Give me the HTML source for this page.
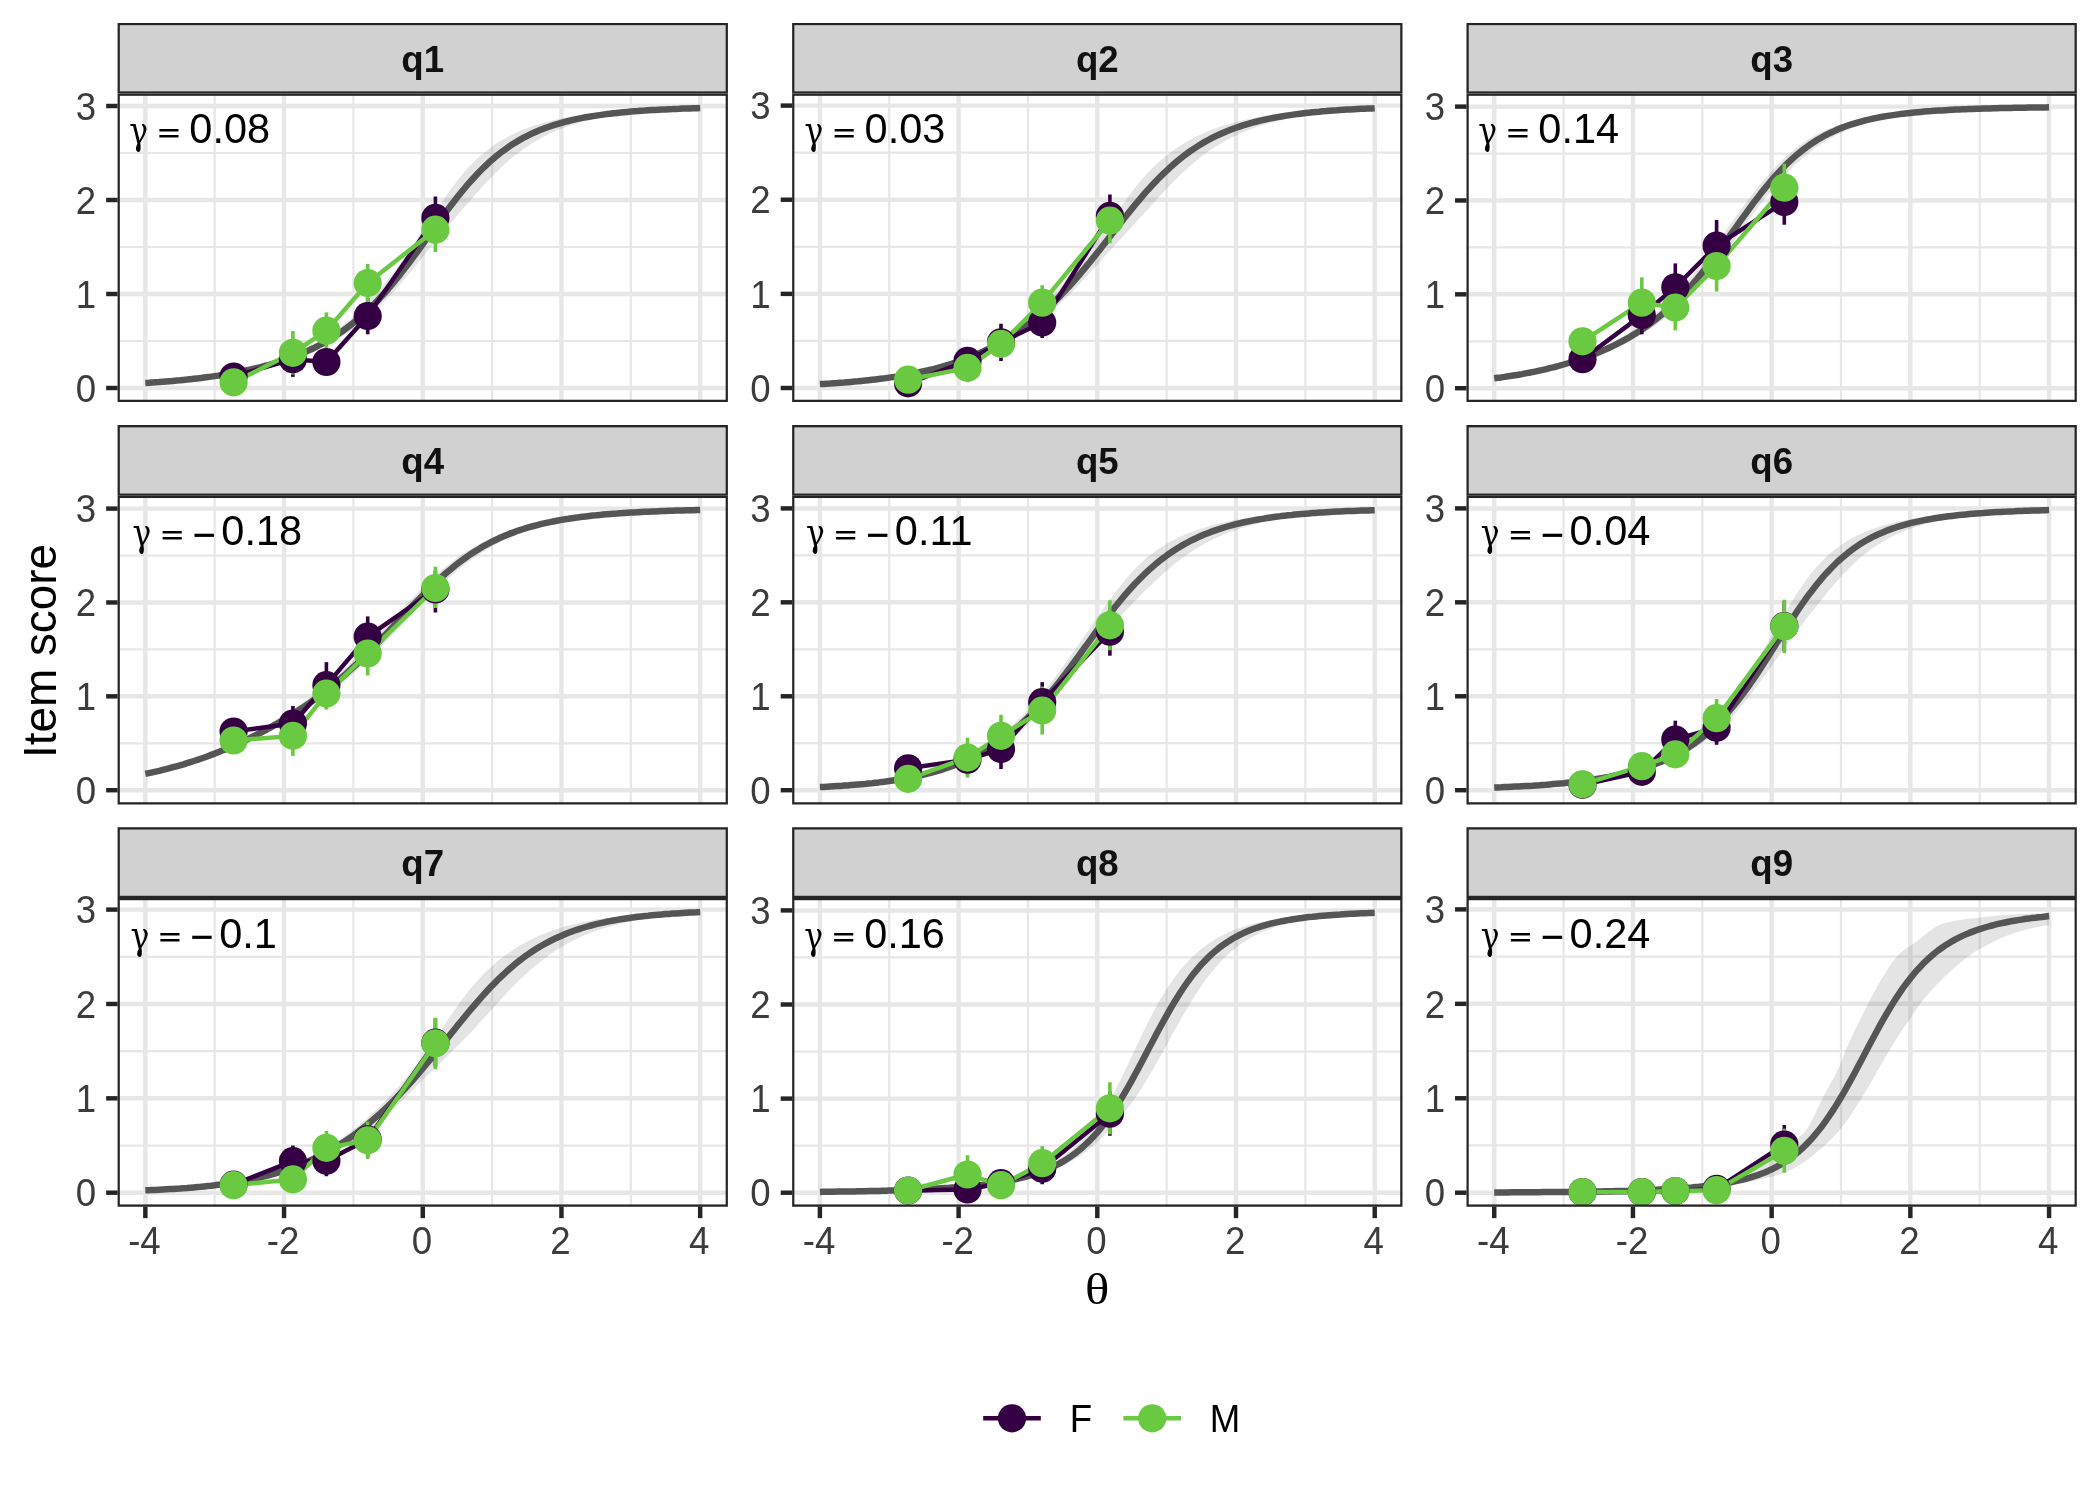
<!DOCTYPE html>
<html lang="en"><head><meta charset="utf-8"><title>Item score by theta</title>
<style>html,body{margin:0;padding:0;background:#fff;}body{width:2100px;height:1500px;overflow:hidden;}svg{display:block;will-change:transform;}</style>
</head><body>
<svg width="2100" height="1500" viewBox="0 0 2100 1500">
<rect width="2100" height="1500" fill="#fff"/>
<defs>
<clipPath id="cp1"><rect x="117.60" y="93.60" width="610.30" height="308.37"/></clipPath>
<clipPath id="cs1"><rect x="117.60" y="22.92" width="610.30" height="70.68"/></clipPath>
<clipPath id="cp2"><rect x="792.15" y="93.60" width="610.30" height="308.37"/></clipPath>
<clipPath id="cs2"><rect x="792.15" y="22.92" width="610.30" height="70.68"/></clipPath>
<clipPath id="cp3"><rect x="1466.50" y="93.60" width="610.30" height="308.37"/></clipPath>
<clipPath id="cs3"><rect x="1466.50" y="22.92" width="610.30" height="70.68"/></clipPath>
<clipPath id="cp4"><rect x="117.60" y="495.80" width="610.30" height="308.65"/></clipPath>
<clipPath id="cs4"><rect x="117.60" y="425.12" width="610.30" height="70.68"/></clipPath>
<clipPath id="cp5"><rect x="792.15" y="495.80" width="610.30" height="308.65"/></clipPath>
<clipPath id="cs5"><rect x="792.15" y="425.12" width="610.30" height="70.68"/></clipPath>
<clipPath id="cp6"><rect x="1466.50" y="495.80" width="610.30" height="308.65"/></clipPath>
<clipPath id="cs6"><rect x="1466.50" y="425.12" width="610.30" height="70.68"/></clipPath>
<clipPath id="cp7"><rect x="117.60" y="898.00" width="610.30" height="308.67"/></clipPath>
<clipPath id="cs7"><rect x="117.60" y="827.32" width="610.30" height="70.68"/></clipPath>
<clipPath id="cp8"><rect x="792.15" y="898.00" width="610.30" height="308.67"/></clipPath>
<clipPath id="cs8"><rect x="792.15" y="827.32" width="610.30" height="70.68"/></clipPath>
<clipPath id="cp9"><rect x="1466.50" y="898.00" width="610.30" height="308.67"/></clipPath>
<clipPath id="cs9"><rect x="1466.50" y="827.32" width="610.30" height="70.68"/></clipPath>
</defs>
<g id="panel1">
<g clip-path="url(#cp1)">
<line x1="214.69" x2="214.69" y1="93.60" y2="401.97" stroke="#e7e7e7" stroke-width="2.23"/>
<line x1="353.40" x2="353.40" y1="93.60" y2="401.97" stroke="#e7e7e7" stroke-width="2.23"/>
<line x1="492.10" x2="492.10" y1="93.60" y2="401.97" stroke="#e7e7e7" stroke-width="2.23"/>
<line x1="630.81" x2="630.81" y1="93.60" y2="401.97" stroke="#e7e7e7" stroke-width="2.23"/>
<line x1="117.60" x2="727.90" y1="341.00" y2="341.00" stroke="#e7e7e7" stroke-width="2.23"/>
<line x1="117.60" x2="727.90" y1="247.00" y2="247.00" stroke="#e7e7e7" stroke-width="2.23"/>
<line x1="117.60" x2="727.90" y1="153.00" y2="153.00" stroke="#e7e7e7" stroke-width="2.23"/>
<line x1="145.34" x2="145.34" y1="93.60" y2="401.97" stroke="#e7e7e7" stroke-width="4.45"/>
<line x1="284.05" x2="284.05" y1="93.60" y2="401.97" stroke="#e7e7e7" stroke-width="4.45"/>
<line x1="422.75" x2="422.75" y1="93.60" y2="401.97" stroke="#e7e7e7" stroke-width="4.45"/>
<line x1="561.45" x2="561.45" y1="93.60" y2="401.97" stroke="#e7e7e7" stroke-width="4.45"/>
<line x1="700.16" x2="700.16" y1="93.60" y2="401.97" stroke="#e7e7e7" stroke-width="4.45"/>
<line x1="117.60" x2="727.90" y1="388.00" y2="388.00" stroke="#e7e7e7" stroke-width="4.45"/>
<line x1="117.60" x2="727.90" y1="294.00" y2="294.00" stroke="#e7e7e7" stroke-width="4.45"/>
<line x1="117.60" x2="727.90" y1="200.00" y2="200.00" stroke="#e7e7e7" stroke-width="4.45"/>
<line x1="117.60" x2="727.90" y1="106.00" y2="106.00" stroke="#e7e7e7" stroke-width="4.45"/>
<polygon points="145.3,382.5 148.8,382.3 152.3,382.0 155.7,381.7 159.2,381.5 162.7,381.2 166.1,380.9 169.6,380.5 173.1,380.2 176.5,379.9 180.0,379.5 183.5,379.1 187.0,378.7 190.4,378.3 193.9,377.9 197.4,377.5 200.8,377.0 204.3,376.5 207.8,376.0 211.2,375.5 214.7,374.9 218.2,374.4 221.6,373.8 225.1,373.1 228.6,372.5 232.0,371.8 235.5,371.1 239.0,370.4 242.4,369.6 245.9,368.8 249.4,368.0 252.8,367.1 256.3,366.2 259.8,365.3 263.2,364.3 266.7,363.3 270.2,362.2 273.6,361.1 277.1,359.9 280.6,358.7 284.0,357.5 287.5,356.2 291.0,354.8 294.4,353.3 297.9,351.8 301.4,350.3 304.9,348.6 308.3,346.9 311.8,345.1 315.3,343.3 318.7,341.3 322.2,339.3 325.7,337.2 329.1,335.0 332.6,332.6 336.1,330.2 339.5,327.7 343.0,325.1 346.5,322.3 349.9,319.4 353.4,316.5 356.9,313.4 360.3,310.1 363.8,306.8 367.3,303.3 370.7,299.6 374.2,295.9 377.7,292.0 381.1,288.0 384.6,283.8 388.1,279.6 391.5,275.2 395.0,270.7 398.5,266.0 401.9,261.3 405.4,256.5 408.9,251.5 412.3,246.5 415.8,241.4 419.3,236.2 422.8,231.0 426.2,225.8 429.7,220.5 433.2,215.2 436.6,210.0 440.1,204.8 443.6,199.7 447.0,194.6 450.5,189.8 454.0,185.0 457.4,180.5 460.9,176.2 464.4,172.0 467.8,168.1 471.3,164.4 474.8,161.0 478.2,157.7 481.7,154.6 485.2,151.7 488.6,149.0 492.1,146.5 495.6,144.1 499.0,141.8 502.5,139.7 506.0,137.8 509.4,135.9 512.9,134.2 516.4,132.6 519.8,131.0 523.3,129.6 526.8,128.2 530.2,127.0 533.7,125.8 537.2,124.7 540.6,123.6 544.1,122.6 547.6,121.7 551.1,120.8 554.5,120.0 558.0,119.2 561.5,118.5 564.9,117.8 568.4,117.2 571.9,116.6 575.3,116.0 578.8,115.5 582.3,115.0 585.7,114.5 589.2,114.0 592.7,113.6 596.1,113.2 599.6,112.9 603.1,112.5 606.5,112.2 610.0,111.8 613.5,111.6 616.9,111.3 620.4,111.0 623.9,110.8 627.3,110.5 630.8,110.3 634.3,110.1 637.7,109.9 641.2,109.7 644.7,109.5 648.1,109.3 651.6,109.2 655.1,109.0 658.5,108.9 662.0,108.7 665.5,108.6 669.0,108.5 672.4,108.4 675.9,108.3 679.4,108.1 682.8,108.0 686.3,107.9 689.8,107.9 693.2,107.8 696.7,107.7 700.2,107.6 700.2,108.7 696.7,108.8 693.2,108.9 689.8,109.1 686.3,109.2 682.8,109.4 679.4,109.6 675.9,109.8 672.4,110.0 669.0,110.2 665.5,110.4 662.0,110.6 658.5,110.9 655.1,111.1 651.6,111.4 648.1,111.7 644.7,112.0 641.2,112.3 637.7,112.6 634.3,113.0 630.8,113.4 627.3,113.8 623.9,114.2 620.4,114.7 616.9,115.2 613.5,115.7 610.0,116.2 606.5,116.8 603.1,117.4 599.6,118.1 596.1,118.8 592.7,119.5 589.2,120.3 585.7,121.1 582.3,122.0 578.8,123.0 575.3,124.0 571.9,125.1 568.4,126.2 564.9,127.4 561.5,128.7 558.0,130.1 554.5,131.5 551.1,133.1 547.6,134.7 544.1,136.4 540.6,138.3 537.2,140.2 533.7,142.3 530.2,144.4 526.8,146.7 523.3,149.1 519.8,151.7 516.4,154.3 512.9,157.1 509.4,160.1 506.0,163.1 502.5,166.3 499.0,169.6 495.6,173.0 492.1,176.5 488.6,180.1 485.2,183.8 481.7,187.6 478.2,191.4 474.8,195.3 471.3,199.3 467.8,203.2 464.4,207.2 460.9,211.2 457.4,215.2 454.0,219.3 450.5,223.3 447.0,227.4 443.6,231.5 440.1,235.7 436.6,239.9 433.2,244.1 429.7,248.4 426.2,252.7 422.8,257.0 419.3,261.3 415.8,265.6 412.3,269.8 408.9,274.1 405.4,278.2 401.9,282.3 398.5,286.3 395.0,290.3 391.5,294.1 388.1,297.8 384.6,301.4 381.1,304.9 377.7,308.3 374.2,311.6 370.7,314.7 367.3,317.8 363.8,320.7 360.3,323.5 356.9,326.2 353.4,328.8 349.9,331.2 346.5,333.6 343.0,335.9 339.5,338.0 336.1,340.1 332.6,342.1 329.1,344.0 325.7,345.9 322.2,347.6 318.7,349.3 315.3,350.9 311.8,352.4 308.3,353.9 304.9,355.3 301.4,356.7 297.9,358.0 294.4,359.2 291.0,360.4 287.5,361.6 284.0,362.7 280.6,363.7 277.1,364.7 273.6,365.7 270.2,366.6 266.7,367.5 263.2,368.3 259.8,369.2 256.3,369.9 252.8,370.7 249.4,371.4 245.9,372.1 242.4,372.8 239.0,373.4 235.5,374.0 232.0,374.6 228.6,375.2 225.1,375.7 221.6,376.2 218.2,376.7 214.7,377.2 211.2,377.6 207.8,378.1 204.3,378.5 200.8,378.9 197.4,379.3 193.9,379.7 190.4,380.0 187.0,380.3 183.5,380.7 180.0,381.0 176.5,381.3 173.1,381.6 169.6,381.8 166.1,382.1 162.7,382.4 159.2,382.6 155.7,382.8 152.3,383.0 148.8,383.3 145.3,383.5" fill="#555555" fill-opacity="0.16"/>
<polyline points="145.3,383.0 148.8,382.8 152.3,382.5 155.7,382.3 159.2,382.1 162.7,381.8 166.1,381.5 169.6,381.2 173.1,380.9 176.5,380.6 180.0,380.3 183.5,379.9 187.0,379.6 190.4,379.2 193.9,378.8 197.4,378.4 200.8,378.0 204.3,377.5 207.8,377.1 211.2,376.6 214.7,376.1 218.2,375.6 221.6,375.0 225.1,374.5 228.6,373.9 232.0,373.3 235.5,372.6 239.0,372.0 242.4,371.3 245.9,370.5 249.4,369.8 252.8,369.0 256.3,368.2 259.8,367.3 263.2,366.4 266.7,365.5 270.2,364.5 273.6,363.5 277.1,362.4 280.6,361.3 284.0,360.2 287.5,359.0 291.0,357.7 294.4,356.4 297.9,355.1 301.4,353.6 304.9,352.1 308.3,350.6 311.8,349.0 315.3,347.3 318.7,345.5 322.2,343.7 325.7,341.7 329.1,339.7 332.6,337.6 336.1,335.4 339.5,333.1 343.0,330.7 346.5,328.2 349.9,325.6 353.4,322.9 356.9,320.1 360.3,317.1 363.8,314.0 367.3,310.8 370.7,307.5 374.2,304.1 377.7,300.5 381.1,296.8 384.6,293.0 388.1,289.0 391.5,284.9 395.0,280.8 398.5,276.5 401.9,272.1 405.4,267.6 408.9,263.0 412.3,258.4 415.8,253.7 419.3,248.9 422.8,244.1 426.2,239.3 429.7,234.4 433.2,229.6 436.6,224.8 440.1,220.0 443.6,215.3 447.0,210.6 450.5,206.0 454.0,201.5 457.4,197.0 460.9,192.7 464.4,188.5 467.8,184.4 471.3,180.5 474.8,176.7 478.2,173.0 481.7,169.5 485.2,166.1 488.6,162.8 492.1,159.8 495.6,156.8 499.0,154.0 502.5,151.3 506.0,148.8 509.4,146.3 512.9,144.1 516.4,141.9 519.8,139.9 523.3,137.9 526.8,136.1 530.2,134.4 533.7,132.8 537.2,131.2 540.6,129.8 544.1,128.4 547.6,127.2 551.1,126.0 554.5,124.9 558.0,123.8 561.5,122.8 564.9,121.9 568.4,121.0 571.9,120.2 575.3,119.4 578.8,118.6 582.3,117.9 585.7,117.3 589.2,116.7 592.7,116.1 596.1,115.6 599.6,115.1 603.1,114.6 606.5,114.1 610.0,113.7 613.5,113.3 616.9,112.9 620.4,112.6 623.9,112.2 627.3,111.9 630.8,111.6 634.3,111.3 637.7,111.1 641.2,110.8 644.7,110.6 648.1,110.3 651.6,110.1 655.1,109.9 658.5,109.7 662.0,109.5 665.5,109.4 669.0,109.2 672.4,109.1 675.9,108.9 679.4,108.8 682.8,108.6 686.3,108.5 689.8,108.4 693.2,108.3 696.7,108.2 700.2,108.1" fill="none" stroke="#555555" stroke-width="6.5" stroke-linejoin="round"/>
<polyline points="233.6,376.5 292.9,359.2 326.4,362.0 367.7,316.1 435.4,217.9" fill="none" stroke="#340043" stroke-width="4.45" stroke-linejoin="round"/>
<polyline points="233.6,382.3 292.9,352.8 326.4,330.7 367.7,283.1 435.4,229.7" fill="none" stroke="#69c940" stroke-width="4.45" stroke-linejoin="round"/>
<line x1="233.6" x2="233.6" y1="364.5" y2="388.5" stroke="#340043" stroke-width="3.6"/>
<line x1="292.9" x2="292.9" y1="341.5" y2="376.9" stroke="#340043" stroke-width="3.6"/>
<line x1="326.4" x2="326.4" y1="350.0" y2="374.0" stroke="#340043" stroke-width="3.6"/>
<line x1="367.7" x2="367.7" y1="297.9" y2="334.3" stroke="#340043" stroke-width="3.6"/>
<line x1="435.4" x2="435.4" y1="196.6" y2="239.2" stroke="#340043" stroke-width="3.6"/>
<line x1="233.6" x2="233.6" y1="370.3" y2="394.3" stroke="#69c940" stroke-width="3.6"/>
<line x1="292.9" x2="292.9" y1="331.0" y2="374.6" stroke="#69c940" stroke-width="3.6"/>
<line x1="326.4" x2="326.4" y1="312.4" y2="349.0" stroke="#69c940" stroke-width="3.6"/>
<line x1="367.7" x2="367.7" y1="263.9" y2="302.3" stroke="#69c940" stroke-width="3.6"/>
<line x1="435.4" x2="435.4" y1="207.3" y2="252.1" stroke="#69c940" stroke-width="3.6"/>
<circle cx="233.6" cy="376.5" r="14.1" fill="#340043"/>
<circle cx="292.9" cy="359.2" r="14.1" fill="#340043"/>
<circle cx="326.4" cy="362.0" r="14.1" fill="#340043"/>
<circle cx="367.7" cy="316.1" r="14.1" fill="#340043"/>
<circle cx="435.4" cy="217.9" r="14.1" fill="#340043"/>
<circle cx="233.6" cy="382.3" r="14.1" fill="#69c940"/>
<circle cx="292.9" cy="352.8" r="14.1" fill="#69c940"/>
<circle cx="326.4" cy="330.7" r="14.1" fill="#69c940"/>
<circle cx="367.7" cy="283.1" r="14.1" fill="#69c940"/>
<circle cx="435.4" cy="229.7" r="14.1" fill="#69c940"/>
<text transform="translate(129.37,144.10) scale(0.8000,1.0000)" font-family="DejaVu Serif, Liberation Serif, serif" font-size="39.3" fill="#000">γ</text>
<text transform="translate(157.69,141.00) scale(0.9230,0.5500)" font-family="Liberation Sans, Arial, Helvetica, sans-serif" font-size="41.5" font-weight="bold" fill="#000">=</text>
<text transform="translate(189.30,143.20) scale(1.0000,1.0407)" font-family="Liberation Sans, Arial, Helvetica, sans-serif" font-size="41.5" fill="#000">0.08</text>
<rect x="117.60" y="93.60" width="610.30" height="308.37" fill="none" stroke="#252525" stroke-width="4.45"/>
</g>
<g clip-path="url(#cs1)"><rect x="117.60" y="22.92" width="610.30" height="70.68" fill="#d1d1d1" stroke="#252525" stroke-width="4.45"/></g>
<text transform="translate(422.75,71.82) scale(1.0000,1.0200)" font-family="Liberation Sans, Arial, Helvetica, sans-serif" font-size="36.67" font-weight="bold" text-anchor="middle" fill="#111111">q1</text>
<line x1="106.14" x2="117.60" y1="388.00" y2="388.00" stroke="#252525" stroke-width="4.45"/>
<text transform="translate(96.15,401.70) scale(1.0000,1.0407)" font-family="Liberation Sans, Arial, Helvetica, sans-serif" font-size="36.67" text-anchor="end" fill="#3c3c3c">0</text>
<line x1="106.14" x2="117.60" y1="294.00" y2="294.00" stroke="#252525" stroke-width="4.45"/>
<text transform="translate(96.15,307.70) scale(1.0000,1.0407)" font-family="Liberation Sans, Arial, Helvetica, sans-serif" font-size="36.67" text-anchor="end" fill="#3c3c3c">1</text>
<line x1="106.14" x2="117.60" y1="200.00" y2="200.00" stroke="#252525" stroke-width="4.45"/>
<text transform="translate(96.15,213.70) scale(1.0000,1.0407)" font-family="Liberation Sans, Arial, Helvetica, sans-serif" font-size="36.67" text-anchor="end" fill="#3c3c3c">2</text>
<line x1="106.14" x2="117.60" y1="106.00" y2="106.00" stroke="#252525" stroke-width="4.45"/>
<text transform="translate(96.15,119.70) scale(1.0000,1.0407)" font-family="Liberation Sans, Arial, Helvetica, sans-serif" font-size="36.67" text-anchor="end" fill="#3c3c3c">3</text>
</g>
<g id="panel2">
<g clip-path="url(#cp2)">
<line x1="889.24" x2="889.24" y1="93.60" y2="401.97" stroke="#e7e7e7" stroke-width="2.23"/>
<line x1="1027.95" x2="1027.95" y1="93.60" y2="401.97" stroke="#e7e7e7" stroke-width="2.23"/>
<line x1="1166.65" x2="1166.65" y1="93.60" y2="401.97" stroke="#e7e7e7" stroke-width="2.23"/>
<line x1="1305.36" x2="1305.36" y1="93.60" y2="401.97" stroke="#e7e7e7" stroke-width="2.23"/>
<line x1="792.15" x2="1402.45" y1="340.93" y2="340.93" stroke="#e7e7e7" stroke-width="2.23"/>
<line x1="792.15" x2="1402.45" y1="246.80" y2="246.80" stroke="#e7e7e7" stroke-width="2.23"/>
<line x1="792.15" x2="1402.45" y1="152.67" y2="152.67" stroke="#e7e7e7" stroke-width="2.23"/>
<line x1="819.89" x2="819.89" y1="93.60" y2="401.97" stroke="#e7e7e7" stroke-width="4.45"/>
<line x1="958.60" x2="958.60" y1="93.60" y2="401.97" stroke="#e7e7e7" stroke-width="4.45"/>
<line x1="1097.30" x2="1097.30" y1="93.60" y2="401.97" stroke="#e7e7e7" stroke-width="4.45"/>
<line x1="1236.00" x2="1236.00" y1="93.60" y2="401.97" stroke="#e7e7e7" stroke-width="4.45"/>
<line x1="1374.71" x2="1374.71" y1="93.60" y2="401.97" stroke="#e7e7e7" stroke-width="4.45"/>
<line x1="792.15" x2="1402.45" y1="388.00" y2="388.00" stroke="#e7e7e7" stroke-width="4.45"/>
<line x1="792.15" x2="1402.45" y1="293.87" y2="293.87" stroke="#e7e7e7" stroke-width="4.45"/>
<line x1="792.15" x2="1402.45" y1="199.73" y2="199.73" stroke="#e7e7e7" stroke-width="4.45"/>
<line x1="792.15" x2="1402.45" y1="105.60" y2="105.60" stroke="#e7e7e7" stroke-width="4.45"/>
<polygon points="819.9,383.6 823.4,383.4 826.8,383.2 830.3,382.9 833.8,382.7 837.2,382.4 840.7,382.1 844.2,381.8 847.6,381.5 851.1,381.2 854.6,380.9 858.0,380.5 861.5,380.1 865.0,379.8 868.4,379.3 871.9,378.9 875.4,378.5 878.8,378.0 882.3,377.5 885.8,377.0 889.2,376.4 892.7,375.9 896.2,375.3 899.6,374.7 903.1,374.0 906.6,373.3 910.0,372.6 913.5,371.9 917.0,371.1 920.5,370.3 923.9,369.5 927.4,368.6 930.9,367.7 934.3,366.7 937.8,365.7 941.3,364.6 944.7,363.6 948.2,362.4 951.7,361.2 955.1,360.0 958.6,358.7 962.1,357.3 965.5,355.9 969.0,354.5 972.5,352.9 975.9,351.4 979.4,349.7 982.9,348.0 986.3,346.2 989.8,344.3 993.3,342.4 996.7,340.4 1000.2,338.3 1003.7,336.2 1007.1,333.9 1010.6,331.6 1014.1,329.1 1017.5,326.6 1021.0,324.0 1024.5,321.3 1027.9,318.5 1031.4,315.6 1034.9,312.6 1038.4,309.5 1041.8,306.3 1045.3,303.0 1048.8,299.5 1052.2,296.0 1055.7,292.4 1059.2,288.6 1062.6,284.8 1066.1,280.8 1069.6,276.7 1073.0,272.6 1076.5,268.3 1080.0,263.9 1083.4,259.5 1086.9,254.9 1090.4,250.2 1093.8,245.5 1097.3,240.7 1100.8,235.8 1104.2,230.8 1107.7,225.8 1111.2,220.8 1114.6,215.8 1118.1,210.8 1121.6,205.9 1125.0,201.1 1128.5,196.3 1132.0,191.7 1135.4,187.3 1138.9,183.0 1142.4,178.9 1145.8,175.0 1149.3,171.3 1152.8,167.8 1156.2,164.4 1159.7,161.3 1163.2,158.3 1166.7,155.4 1170.1,152.7 1173.6,150.2 1177.1,147.8 1180.5,145.5 1184.0,143.4 1187.5,141.3 1190.9,139.4 1194.4,137.6 1197.9,135.8 1201.3,134.2 1204.8,132.7 1208.3,131.2 1211.7,129.8 1215.2,128.5 1218.7,127.3 1222.1,126.1 1225.6,125.0 1229.1,124.0 1232.5,123.0 1236.0,122.1 1239.5,121.2 1242.9,120.4 1246.4,119.6 1249.9,118.8 1253.3,118.1 1256.8,117.5 1260.3,116.9 1263.7,116.3 1267.2,115.7 1270.7,115.2 1274.1,114.7 1277.6,114.2 1281.1,113.8 1284.6,113.3 1288.0,112.9 1291.5,112.5 1295.0,112.2 1298.4,111.9 1301.9,111.5 1305.4,111.2 1308.8,110.9 1312.3,110.7 1315.8,110.4 1319.2,110.2 1322.7,109.9 1326.2,109.7 1329.6,109.5 1333.1,109.3 1336.6,109.1 1340.0,108.9 1343.5,108.8 1347.0,108.6 1350.4,108.5 1353.9,108.3 1357.4,108.2 1360.8,108.0 1364.3,107.9 1367.8,107.8 1371.2,107.7 1374.7,107.6 1374.7,109.1 1371.2,109.3 1367.8,109.5 1364.3,109.7 1360.8,109.9 1357.4,110.1 1353.9,110.4 1350.4,110.6 1347.0,110.9 1343.5,111.2 1340.0,111.5 1336.6,111.8 1333.1,112.1 1329.6,112.5 1326.2,112.9 1322.7,113.2 1319.2,113.7 1315.8,114.1 1312.3,114.6 1308.8,115.1 1305.4,115.6 1301.9,116.1 1298.4,116.7 1295.0,117.4 1291.5,118.0 1288.0,118.7 1284.6,119.4 1281.1,120.2 1277.6,121.0 1274.1,121.9 1270.7,122.8 1267.2,123.8 1263.7,124.8 1260.3,125.9 1256.8,127.0 1253.3,128.3 1249.9,129.5 1246.4,130.9 1242.9,132.3 1239.5,133.8 1236.0,135.4 1232.5,137.1 1229.1,138.9 1225.6,140.8 1222.1,142.7 1218.7,144.8 1215.2,147.0 1211.7,149.2 1208.3,151.6 1204.8,154.1 1201.3,156.8 1197.9,159.5 1194.4,162.3 1190.9,165.3 1187.5,168.4 1184.0,171.5 1180.5,174.8 1177.1,178.2 1173.6,181.7 1170.1,185.2 1166.7,188.8 1163.2,192.5 1159.7,196.3 1156.2,200.0 1152.8,203.8 1149.3,207.7 1145.8,211.5 1142.4,215.3 1138.9,219.1 1135.4,222.9 1132.0,226.6 1128.5,230.4 1125.0,234.1 1121.6,237.9 1118.1,241.6 1114.6,245.4 1111.2,249.2 1107.7,253.0 1104.2,256.9 1100.8,260.7 1097.3,264.6 1093.8,268.5 1090.4,272.3 1086.9,276.1 1083.4,279.9 1080.0,283.6 1076.5,287.3 1073.0,290.9 1069.6,294.5 1066.1,297.9 1062.6,301.3 1059.2,304.6 1055.7,307.8 1052.2,310.9 1048.8,314.0 1045.3,316.9 1041.8,319.7 1038.4,322.5 1034.9,325.1 1031.4,327.7 1027.9,330.2 1024.5,332.5 1021.0,334.8 1017.5,337.0 1014.1,339.2 1010.6,341.2 1007.1,343.2 1003.7,345.1 1000.2,346.9 996.7,348.7 993.3,350.4 989.8,352.0 986.3,353.6 982.9,355.1 979.4,356.5 975.9,357.9 972.5,359.2 969.0,360.5 965.5,361.7 962.1,362.9 958.6,364.0 955.1,365.1 951.7,366.1 948.2,367.1 944.7,368.0 941.3,368.9 937.8,369.8 934.3,370.6 930.9,371.4 927.4,372.2 923.9,372.9 920.5,373.6 917.0,374.3 913.5,374.9 910.0,375.5 906.6,376.1 903.1,376.7 899.6,377.2 896.2,377.7 892.7,378.2 889.2,378.6 885.8,379.1 882.3,379.5 878.8,379.9 875.4,380.3 871.9,380.7 868.4,381.0 865.0,381.3 861.5,381.7 858.0,382.0 854.6,382.2 851.1,382.5 847.6,382.8 844.2,383.0 840.7,383.3 837.2,383.5 833.8,383.7 830.3,383.9 826.8,384.1 823.4,384.3 819.9,384.5" fill="#555555" fill-opacity="0.16"/>
<polyline points="819.9,384.1 823.4,383.9 826.8,383.7 830.3,383.5 833.8,383.2 837.2,383.0 840.7,382.7 844.2,382.5 847.6,382.2 851.1,381.9 854.6,381.6 858.0,381.3 861.5,380.9 865.0,380.6 868.4,380.2 871.9,379.8 875.4,379.4 878.8,379.0 882.3,378.6 885.8,378.1 889.2,377.6 892.7,377.1 896.2,376.6 899.6,376.0 903.1,375.4 906.6,374.8 910.0,374.2 913.5,373.5 917.0,372.8 920.5,372.0 923.9,371.3 927.4,370.5 930.9,369.6 934.3,368.8 937.8,367.8 941.3,366.9 944.7,365.9 948.2,364.9 951.7,363.8 955.1,362.6 958.6,361.5 962.1,360.2 965.5,358.9 969.0,357.6 972.5,356.2 975.9,354.8 979.4,353.3 982.9,351.7 986.3,350.0 989.8,348.3 993.3,346.6 996.7,344.7 1000.2,342.8 1003.7,340.8 1007.1,338.7 1010.6,336.6 1014.1,334.4 1017.5,332.0 1021.0,329.6 1024.5,327.1 1027.9,324.6 1031.4,321.9 1034.9,319.1 1038.4,316.2 1041.8,313.3 1045.3,310.2 1048.8,307.0 1052.2,303.7 1055.7,300.4 1059.2,296.9 1062.6,293.3 1066.1,289.6 1069.6,285.9 1073.0,282.0 1076.5,278.0 1080.0,274.0 1083.4,269.9 1086.9,265.7 1090.4,261.5 1093.8,257.1 1097.3,252.8 1100.8,248.4 1104.2,243.9 1107.7,239.5 1111.2,235.0 1114.6,230.6 1118.1,226.1 1121.6,221.7 1125.0,217.3 1128.5,212.9 1132.0,208.6 1135.4,204.4 1138.9,200.3 1142.4,196.2 1145.8,192.2 1149.3,188.3 1152.8,184.5 1156.2,180.9 1159.7,177.3 1163.2,173.9 1166.7,170.6 1170.1,167.4 1173.6,164.3 1177.1,161.3 1180.5,158.5 1184.0,155.8 1187.5,153.2 1190.9,150.7 1194.4,148.4 1197.9,146.1 1201.3,144.0 1204.8,141.9 1208.3,140.0 1211.7,138.2 1215.2,136.4 1218.7,134.8 1222.1,133.2 1225.6,131.7 1229.1,130.3 1232.5,129.0 1236.0,127.8 1239.5,126.6 1242.9,125.4 1246.4,124.4 1249.9,123.4 1253.3,122.4 1256.8,121.5 1260.3,120.7 1263.7,119.9 1267.2,119.1 1270.7,118.4 1274.1,117.7 1277.6,117.1 1281.1,116.5 1284.6,115.9 1288.0,115.4 1291.5,114.9 1295.0,114.4 1298.4,113.9 1301.9,113.5 1305.4,113.1 1308.8,112.7 1312.3,112.3 1315.8,112.0 1319.2,111.7 1322.7,111.3 1326.2,111.1 1329.6,110.8 1333.1,110.5 1336.6,110.3 1340.0,110.0 1343.5,109.8 1347.0,109.6 1350.4,109.4 1353.9,109.2 1357.4,109.0 1360.8,108.8 1364.3,108.7 1367.8,108.5 1371.2,108.4 1374.7,108.2" fill="none" stroke="#555555" stroke-width="6.5" stroke-linejoin="round"/>
<polyline points="908.1,383.3 967.5,360.9 1001.0,342.3 1042.2,322.6 1109.9,215.9" fill="none" stroke="#340043" stroke-width="4.45" stroke-linejoin="round"/>
<polyline points="908.1,379.7 967.5,367.9 1001.0,343.9 1042.2,302.7 1109.9,220.6" fill="none" stroke="#69c940" stroke-width="4.45" stroke-linejoin="round"/>
<line x1="908.1" x2="908.1" y1="371.3" y2="395.3" stroke="#340043" stroke-width="3.6"/>
<line x1="967.5" x2="967.5" y1="348.9" y2="372.9" stroke="#340043" stroke-width="3.6"/>
<line x1="1001.0" x2="1001.0" y1="323.7" y2="360.9" stroke="#340043" stroke-width="3.6"/>
<line x1="1042.2" x2="1042.2" y1="307.2" y2="338.0" stroke="#340043" stroke-width="3.6"/>
<line x1="1109.9" x2="1109.9" y1="194.5" y2="237.3" stroke="#340043" stroke-width="3.6"/>
<line x1="908.1" x2="908.1" y1="367.7" y2="391.7" stroke="#69c940" stroke-width="3.6"/>
<line x1="967.5" x2="967.5" y1="353.6" y2="382.2" stroke="#69c940" stroke-width="3.6"/>
<line x1="1001.0" x2="1001.0" y1="329.9" y2="357.9" stroke="#69c940" stroke-width="3.6"/>
<line x1="1042.2" x2="1042.2" y1="285.2" y2="320.2" stroke="#69c940" stroke-width="3.6"/>
<line x1="1109.9" x2="1109.9" y1="203.6" y2="243.2" stroke="#69c940" stroke-width="3.6"/>
<circle cx="908.1" cy="383.3" r="14.1" fill="#340043"/>
<circle cx="967.5" cy="360.9" r="14.1" fill="#340043"/>
<circle cx="1001.0" cy="342.3" r="14.1" fill="#340043"/>
<circle cx="1042.2" cy="322.6" r="14.1" fill="#340043"/>
<circle cx="1109.9" cy="215.9" r="14.1" fill="#340043"/>
<circle cx="908.1" cy="379.7" r="14.1" fill="#69c940"/>
<circle cx="967.5" cy="367.9" r="14.1" fill="#69c940"/>
<circle cx="1001.0" cy="343.9" r="14.1" fill="#69c940"/>
<circle cx="1042.2" cy="302.7" r="14.1" fill="#69c940"/>
<circle cx="1109.9" cy="220.6" r="14.1" fill="#69c940"/>
<text transform="translate(804.62,144.10) scale(0.8000,1.0000)" font-family="DejaVu Serif, Liberation Serif, serif" font-size="39.3" fill="#000">γ</text>
<text transform="translate(832.94,141.00) scale(0.9230,0.5500)" font-family="Liberation Sans, Arial, Helvetica, sans-serif" font-size="41.5" font-weight="bold" fill="#000">=</text>
<text transform="translate(864.55,143.20) scale(1.0000,1.0407)" font-family="Liberation Sans, Arial, Helvetica, sans-serif" font-size="41.5" fill="#000">0.03</text>
<rect x="792.15" y="93.60" width="610.30" height="308.37" fill="none" stroke="#252525" stroke-width="4.45"/>
</g>
<g clip-path="url(#cs2)"><rect x="792.15" y="22.92" width="610.30" height="70.68" fill="#d1d1d1" stroke="#252525" stroke-width="4.45"/></g>
<text transform="translate(1097.30,71.82) scale(1.0000,1.0200)" font-family="Liberation Sans, Arial, Helvetica, sans-serif" font-size="36.67" font-weight="bold" text-anchor="middle" fill="#111111">q2</text>
<line x1="780.69" x2="792.15" y1="388.00" y2="388.00" stroke="#252525" stroke-width="4.45"/>
<text transform="translate(770.70,401.70) scale(1.0000,1.0407)" font-family="Liberation Sans, Arial, Helvetica, sans-serif" font-size="36.67" text-anchor="end" fill="#3c3c3c">0</text>
<line x1="780.69" x2="792.15" y1="293.87" y2="293.87" stroke="#252525" stroke-width="4.45"/>
<text transform="translate(770.70,307.57) scale(1.0000,1.0407)" font-family="Liberation Sans, Arial, Helvetica, sans-serif" font-size="36.67" text-anchor="end" fill="#3c3c3c">1</text>
<line x1="780.69" x2="792.15" y1="199.73" y2="199.73" stroke="#252525" stroke-width="4.45"/>
<text transform="translate(770.70,213.43) scale(1.0000,1.0407)" font-family="Liberation Sans, Arial, Helvetica, sans-serif" font-size="36.67" text-anchor="end" fill="#3c3c3c">2</text>
<line x1="780.69" x2="792.15" y1="105.60" y2="105.60" stroke="#252525" stroke-width="4.45"/>
<text transform="translate(770.70,119.30) scale(1.0000,1.0407)" font-family="Liberation Sans, Arial, Helvetica, sans-serif" font-size="36.67" text-anchor="end" fill="#3c3c3c">3</text>
</g>
<g id="panel3">
<g clip-path="url(#cp3)">
<line x1="1563.59" x2="1563.59" y1="93.60" y2="401.97" stroke="#e7e7e7" stroke-width="2.23"/>
<line x1="1702.30" x2="1702.30" y1="93.60" y2="401.97" stroke="#e7e7e7" stroke-width="2.23"/>
<line x1="1841.00" x2="1841.00" y1="93.60" y2="401.97" stroke="#e7e7e7" stroke-width="2.23"/>
<line x1="1979.71" x2="1979.71" y1="93.60" y2="401.97" stroke="#e7e7e7" stroke-width="2.23"/>
<line x1="1466.50" x2="2076.80" y1="341.27" y2="341.27" stroke="#e7e7e7" stroke-width="2.23"/>
<line x1="1466.50" x2="2076.80" y1="247.40" y2="247.40" stroke="#e7e7e7" stroke-width="2.23"/>
<line x1="1466.50" x2="2076.80" y1="153.53" y2="153.53" stroke="#e7e7e7" stroke-width="2.23"/>
<line x1="1494.24" x2="1494.24" y1="93.60" y2="401.97" stroke="#e7e7e7" stroke-width="4.45"/>
<line x1="1632.95" x2="1632.95" y1="93.60" y2="401.97" stroke="#e7e7e7" stroke-width="4.45"/>
<line x1="1771.65" x2="1771.65" y1="93.60" y2="401.97" stroke="#e7e7e7" stroke-width="4.45"/>
<line x1="1910.35" x2="1910.35" y1="93.60" y2="401.97" stroke="#e7e7e7" stroke-width="4.45"/>
<line x1="2049.06" x2="2049.06" y1="93.60" y2="401.97" stroke="#e7e7e7" stroke-width="4.45"/>
<line x1="1466.50" x2="2076.80" y1="388.20" y2="388.20" stroke="#e7e7e7" stroke-width="4.45"/>
<line x1="1466.50" x2="2076.80" y1="294.33" y2="294.33" stroke="#e7e7e7" stroke-width="4.45"/>
<line x1="1466.50" x2="2076.80" y1="200.47" y2="200.47" stroke="#e7e7e7" stroke-width="4.45"/>
<line x1="1466.50" x2="2076.80" y1="106.60" y2="106.60" stroke="#e7e7e7" stroke-width="4.45"/>
<polygon points="1494.2,377.3 1497.7,376.8 1501.2,376.2 1504.6,375.7 1508.1,375.1 1511.6,374.5 1515.0,373.9 1518.5,373.3 1522.0,372.6 1525.4,371.9 1528.9,371.2 1532.4,370.5 1535.9,369.7 1539.3,368.9 1542.8,368.0 1546.3,367.2 1549.7,366.3 1553.2,365.3 1556.7,364.3 1560.1,363.3 1563.6,362.3 1567.1,361.2 1570.5,360.0 1574.0,358.9 1577.5,357.6 1580.9,356.4 1584.4,355.1 1587.9,353.7 1591.3,352.3 1594.8,350.8 1598.3,349.3 1601.7,347.7 1605.2,346.0 1608.7,344.3 1612.1,342.5 1615.6,340.7 1619.1,338.8 1622.5,336.8 1626.0,334.7 1629.5,332.6 1632.9,330.3 1636.4,328.0 1639.9,325.6 1643.3,323.1 1646.8,320.5 1650.3,317.8 1653.8,314.9 1657.2,312.0 1660.7,308.9 1664.2,305.8 1667.6,302.5 1671.1,299.1 1674.6,295.5 1678.0,291.9 1681.5,288.1 1685.0,284.2 1688.4,280.1 1691.9,276.0 1695.4,271.7 1698.8,267.4 1702.3,262.9 1705.8,258.3 1709.2,253.7 1712.7,249.0 1716.2,244.2 1719.6,239.4 1723.1,234.5 1726.6,229.6 1730.0,224.7 1733.5,219.9 1737.0,215.0 1740.4,210.2 1743.9,205.5 1747.4,200.8 1750.8,196.2 1754.3,191.7 1757.8,187.3 1761.2,183.1 1764.7,178.9 1768.2,174.9 1771.7,171.1 1775.1,167.3 1778.6,163.8 1782.1,160.3 1785.5,157.1 1789.0,153.9 1792.5,151.0 1795.9,148.2 1799.4,145.5 1802.9,143.0 1806.3,140.7 1809.8,138.5 1813.3,136.4 1816.7,134.5 1820.2,132.7 1823.7,131.1 1827.1,129.5 1830.6,128.0 1834.1,126.7 1837.5,125.4 1841.0,124.3 1844.5,123.2 1847.9,122.1 1851.4,121.2 1854.9,120.3 1858.3,119.4 1861.8,118.7 1865.3,117.9 1868.7,117.3 1872.2,116.6 1875.7,116.0 1879.1,115.5 1882.6,115.0 1886.1,114.5 1889.5,114.0 1893.0,113.6 1896.5,113.2 1900.0,112.8 1903.4,112.5 1906.9,112.1 1910.4,111.8 1913.8,111.5 1917.3,111.3 1920.8,111.0 1924.2,110.8 1927.7,110.5 1931.2,110.3 1934.6,110.1 1938.1,109.9 1941.6,109.8 1945.0,109.6 1948.5,109.4 1952.0,109.3 1955.4,109.1 1958.9,109.0 1962.4,108.9 1965.8,108.8 1969.3,108.7 1972.8,108.5 1976.2,108.4 1979.7,108.4 1983.2,108.3 1986.6,108.2 1990.1,108.1 1993.6,108.0 1997.0,108.0 2000.5,107.9 2004.0,107.8 2007.4,107.8 2010.9,107.7 2014.4,107.6 2017.9,107.6 2021.3,107.5 2024.8,107.5 2028.3,107.5 2031.7,107.4 2035.2,107.4 2038.7,107.3 2042.1,107.3 2045.6,107.3 2049.1,107.2 2049.1,107.5 2045.6,107.5 2042.1,107.6 2038.7,107.6 2035.2,107.7 2031.7,107.7 2028.3,107.8 2024.8,107.8 2021.3,107.9 2017.9,108.0 2014.4,108.1 2010.9,108.1 2007.4,108.2 2004.0,108.3 2000.5,108.4 1997.0,108.5 1993.6,108.6 1990.1,108.7 1986.6,108.8 1983.2,108.9 1979.7,109.1 1976.2,109.2 1972.8,109.3 1969.3,109.5 1965.8,109.7 1962.4,109.8 1958.9,110.0 1955.4,110.2 1952.0,110.4 1948.5,110.6 1945.0,110.9 1941.6,111.1 1938.1,111.4 1934.6,111.6 1931.2,111.9 1927.7,112.3 1924.2,112.6 1920.8,113.0 1917.3,113.3 1913.8,113.8 1910.4,114.2 1906.9,114.7 1903.4,115.2 1900.0,115.7 1896.5,116.3 1893.0,116.9 1889.5,117.5 1886.1,118.2 1882.6,118.9 1879.1,119.7 1875.7,120.6 1872.2,121.5 1868.7,122.4 1865.3,123.5 1861.8,124.6 1858.3,125.8 1854.9,127.0 1851.4,128.3 1847.9,129.8 1844.5,131.3 1841.0,132.9 1837.5,134.6 1834.1,136.4 1830.6,138.3 1827.1,140.3 1823.7,142.5 1820.2,144.7 1816.7,147.1 1813.3,149.6 1809.8,152.2 1806.3,155.0 1802.9,157.9 1799.4,160.9 1795.9,164.0 1792.5,167.3 1789.0,170.8 1785.5,174.4 1782.1,178.1 1778.6,182.0 1775.1,186.0 1771.7,190.1 1768.2,194.4 1764.7,198.8 1761.2,203.3 1757.8,207.9 1754.3,212.6 1750.8,217.3 1747.4,222.1 1743.9,227.0 1740.4,231.8 1737.0,236.6 1733.5,241.4 1730.0,246.2 1726.6,251.0 1723.1,255.6 1719.6,260.2 1716.2,264.7 1712.7,269.2 1709.2,273.5 1705.8,277.7 1702.3,281.8 1698.8,285.8 1695.4,289.6 1691.9,293.4 1688.4,297.0 1685.0,300.5 1681.5,303.8 1678.0,307.1 1674.6,310.2 1671.1,313.2 1667.6,316.1 1664.2,318.9 1660.7,321.5 1657.2,324.1 1653.8,326.6 1650.3,329.0 1646.8,331.2 1643.3,333.4 1639.9,335.6 1636.4,337.6 1632.9,339.6 1629.5,341.4 1626.0,343.3 1622.5,345.0 1619.1,346.7 1615.6,348.3 1612.1,349.9 1608.7,351.4 1605.2,352.8 1601.7,354.2 1598.3,355.6 1594.8,356.9 1591.3,358.1 1587.9,359.3 1584.4,360.5 1580.9,361.6 1577.5,362.7 1574.0,363.7 1570.5,364.7 1567.1,365.7 1563.6,366.6 1560.1,367.5 1556.7,368.4 1553.2,369.2 1549.7,370.0 1546.3,370.8 1542.8,371.5 1539.3,372.2 1535.9,372.9 1532.4,373.6 1528.9,374.2 1525.4,374.8 1522.0,375.4 1518.5,375.9 1515.0,376.5 1511.6,377.0 1508.1,377.5 1504.6,377.9 1501.2,378.4 1497.7,378.8 1494.2,379.2" fill="#555555" fill-opacity="0.16"/>
<polyline points="1494.2,378.3 1497.7,377.8 1501.2,377.4 1504.6,376.9 1508.1,376.3 1511.6,375.8 1515.0,375.2 1518.5,374.7 1522.0,374.1 1525.4,373.4 1528.9,372.8 1532.4,372.1 1535.9,371.4 1539.3,370.6 1542.8,369.9 1546.3,369.1 1549.7,368.2 1553.2,367.4 1556.7,366.5 1560.1,365.5 1563.6,364.5 1567.1,363.5 1570.5,362.5 1574.0,361.4 1577.5,360.3 1580.9,359.1 1584.4,357.9 1587.9,356.6 1591.3,355.3 1594.8,354.0 1598.3,352.6 1601.7,351.1 1605.2,349.6 1608.7,348.0 1612.1,346.4 1615.6,344.7 1619.1,342.9 1622.5,341.1 1626.0,339.2 1629.5,337.2 1632.9,335.1 1636.4,333.0 1639.9,330.8 1643.3,328.5 1646.8,326.1 1650.3,323.6 1653.8,321.0 1657.2,318.3 1660.7,315.5 1664.2,312.6 1667.6,309.6 1671.1,306.4 1674.6,303.1 1678.0,299.8 1681.5,296.3 1685.0,292.6 1688.4,288.9 1691.9,285.0 1695.4,281.0 1698.8,276.8 1702.3,272.6 1705.8,268.3 1709.2,263.8 1712.7,259.3 1716.2,254.6 1719.6,249.9 1723.1,245.2 1726.6,240.4 1730.0,235.5 1733.5,230.7 1737.0,225.8 1740.4,220.9 1743.9,216.1 1747.4,211.3 1750.8,206.6 1754.3,201.9 1757.8,197.4 1761.2,192.9 1764.7,188.6 1768.2,184.3 1771.7,180.2 1775.1,176.2 1778.6,172.4 1782.1,168.7 1785.5,165.2 1789.0,161.9 1792.5,158.6 1795.9,155.6 1799.4,152.7 1802.9,149.9 1806.3,147.3 1809.8,144.8 1813.3,142.5 1816.7,140.3 1820.2,138.2 1823.7,136.2 1827.1,134.4 1830.6,132.7 1834.1,131.1 1837.5,129.5 1841.0,128.1 1844.5,126.8 1847.9,125.5 1851.4,124.4 1854.9,123.3 1858.3,122.3 1861.8,121.3 1865.3,120.4 1868.7,119.6 1872.2,118.8 1875.7,118.1 1879.1,117.4 1882.6,116.7 1886.1,116.1 1889.5,115.6 1893.0,115.1 1896.5,114.6 1900.0,114.1 1903.4,113.7 1906.9,113.3 1910.4,112.9 1913.8,112.5 1917.3,112.2 1920.8,111.9 1924.2,111.6 1927.7,111.3 1931.2,111.1 1934.6,110.8 1938.1,110.6 1941.6,110.4 1945.0,110.2 1948.5,110.0 1952.0,109.8 1955.4,109.6 1958.9,109.5 1962.4,109.3 1965.8,109.2 1969.3,109.0 1972.8,108.9 1976.2,108.8 1979.7,108.7 1983.2,108.6 1986.6,108.5 1990.1,108.4 1993.6,108.3 1997.0,108.2 2000.5,108.1 2004.0,108.0 2007.4,108.0 2010.9,107.9 2014.4,107.8 2017.9,107.8 2021.3,107.7 2024.8,107.7 2028.3,107.6 2031.7,107.6 2035.2,107.5 2038.7,107.5 2042.1,107.4 2045.6,107.4 2049.1,107.3" fill="none" stroke="#555555" stroke-width="6.5" stroke-linejoin="round"/>
<polyline points="1582.5,359.2 1641.8,315.1 1675.3,287.3 1716.6,245.7 1784.3,202.0" fill="none" stroke="#340043" stroke-width="4.45" stroke-linejoin="round"/>
<polyline points="1582.5,341.3 1641.8,302.7 1675.3,307.6 1716.6,266.0 1784.3,187.7" fill="none" stroke="#69c940" stroke-width="4.45" stroke-linejoin="round"/>
<line x1="1582.5" x2="1582.5" y1="346.2" y2="372.2" stroke="#340043" stroke-width="3.6"/>
<line x1="1641.8" x2="1641.8" y1="295.9" y2="334.3" stroke="#340043" stroke-width="3.6"/>
<line x1="1675.3" x2="1675.3" y1="263.4" y2="311.2" stroke="#340043" stroke-width="3.6"/>
<line x1="1716.6" x2="1716.6" y1="220.1" y2="271.3" stroke="#340043" stroke-width="3.6"/>
<line x1="1784.3" x2="1784.3" y1="179.2" y2="224.8" stroke="#340043" stroke-width="3.6"/>
<line x1="1582.5" x2="1582.5" y1="328.3" y2="354.3" stroke="#69c940" stroke-width="3.6"/>
<line x1="1641.8" x2="1641.8" y1="277.3" y2="328.1" stroke="#69c940" stroke-width="3.6"/>
<line x1="1675.3" x2="1675.3" y1="284.8" y2="330.4" stroke="#69c940" stroke-width="3.6"/>
<line x1="1716.6" x2="1716.6" y1="240.4" y2="291.6" stroke="#69c940" stroke-width="3.6"/>
<line x1="1784.3" x2="1784.3" y1="163.7" y2="211.7" stroke="#69c940" stroke-width="3.6"/>
<circle cx="1582.5" cy="359.2" r="14.1" fill="#340043"/>
<circle cx="1641.8" cy="315.1" r="14.1" fill="#340043"/>
<circle cx="1675.3" cy="287.3" r="14.1" fill="#340043"/>
<circle cx="1716.6" cy="245.7" r="14.1" fill="#340043"/>
<circle cx="1784.3" cy="202.0" r="14.1" fill="#340043"/>
<circle cx="1582.5" cy="341.3" r="14.1" fill="#69c940"/>
<circle cx="1641.8" cy="302.7" r="14.1" fill="#69c940"/>
<circle cx="1675.3" cy="307.6" r="14.1" fill="#69c940"/>
<circle cx="1716.6" cy="266.0" r="14.1" fill="#69c940"/>
<circle cx="1784.3" cy="187.7" r="14.1" fill="#69c940"/>
<text transform="translate(1478.37,144.10) scale(0.8000,1.0000)" font-family="DejaVu Serif, Liberation Serif, serif" font-size="39.3" fill="#000">γ</text>
<text transform="translate(1506.69,141.00) scale(0.9230,0.5500)" font-family="Liberation Sans, Arial, Helvetica, sans-serif" font-size="41.5" font-weight="bold" fill="#000">=</text>
<text transform="translate(1538.30,143.20) scale(1.0000,1.0407)" font-family="Liberation Sans, Arial, Helvetica, sans-serif" font-size="41.5" fill="#000">0.14</text>
<rect x="1466.50" y="93.60" width="610.30" height="308.37" fill="none" stroke="#252525" stroke-width="4.45"/>
</g>
<g clip-path="url(#cs3)"><rect x="1466.50" y="22.92" width="610.30" height="70.68" fill="#d1d1d1" stroke="#252525" stroke-width="4.45"/></g>
<text transform="translate(1771.65,71.82) scale(1.0000,1.0200)" font-family="Liberation Sans, Arial, Helvetica, sans-serif" font-size="36.67" font-weight="bold" text-anchor="middle" fill="#111111">q3</text>
<line x1="1455.04" x2="1466.50" y1="388.20" y2="388.20" stroke="#252525" stroke-width="4.45"/>
<text transform="translate(1445.05,401.90) scale(1.0000,1.0407)" font-family="Liberation Sans, Arial, Helvetica, sans-serif" font-size="36.67" text-anchor="end" fill="#3c3c3c">0</text>
<line x1="1455.04" x2="1466.50" y1="294.33" y2="294.33" stroke="#252525" stroke-width="4.45"/>
<text transform="translate(1445.05,308.03) scale(1.0000,1.0407)" font-family="Liberation Sans, Arial, Helvetica, sans-serif" font-size="36.67" text-anchor="end" fill="#3c3c3c">1</text>
<line x1="1455.04" x2="1466.50" y1="200.47" y2="200.47" stroke="#252525" stroke-width="4.45"/>
<text transform="translate(1445.05,214.17) scale(1.0000,1.0407)" font-family="Liberation Sans, Arial, Helvetica, sans-serif" font-size="36.67" text-anchor="end" fill="#3c3c3c">2</text>
<line x1="1455.04" x2="1466.50" y1="106.60" y2="106.60" stroke="#252525" stroke-width="4.45"/>
<text transform="translate(1445.05,120.30) scale(1.0000,1.0407)" font-family="Liberation Sans, Arial, Helvetica, sans-serif" font-size="36.67" text-anchor="end" fill="#3c3c3c">3</text>
</g>
<g id="panel4">
<g clip-path="url(#cp4)">
<line x1="214.69" x2="214.69" y1="495.80" y2="804.45" stroke="#e7e7e7" stroke-width="2.23"/>
<line x1="353.40" x2="353.40" y1="495.80" y2="804.45" stroke="#e7e7e7" stroke-width="2.23"/>
<line x1="492.10" x2="492.10" y1="495.80" y2="804.45" stroke="#e7e7e7" stroke-width="2.23"/>
<line x1="630.81" x2="630.81" y1="495.80" y2="804.45" stroke="#e7e7e7" stroke-width="2.23"/>
<line x1="117.60" x2="727.90" y1="743.27" y2="743.27" stroke="#e7e7e7" stroke-width="2.23"/>
<line x1="117.60" x2="727.90" y1="649.40" y2="649.40" stroke="#e7e7e7" stroke-width="2.23"/>
<line x1="117.60" x2="727.90" y1="555.53" y2="555.53" stroke="#e7e7e7" stroke-width="2.23"/>
<line x1="145.34" x2="145.34" y1="495.80" y2="804.45" stroke="#e7e7e7" stroke-width="4.45"/>
<line x1="284.05" x2="284.05" y1="495.80" y2="804.45" stroke="#e7e7e7" stroke-width="4.45"/>
<line x1="422.75" x2="422.75" y1="495.80" y2="804.45" stroke="#e7e7e7" stroke-width="4.45"/>
<line x1="561.45" x2="561.45" y1="495.80" y2="804.45" stroke="#e7e7e7" stroke-width="4.45"/>
<line x1="700.16" x2="700.16" y1="495.80" y2="804.45" stroke="#e7e7e7" stroke-width="4.45"/>
<line x1="117.60" x2="727.90" y1="790.20" y2="790.20" stroke="#e7e7e7" stroke-width="4.45"/>
<line x1="117.60" x2="727.90" y1="696.33" y2="696.33" stroke="#e7e7e7" stroke-width="4.45"/>
<line x1="117.60" x2="727.90" y1="602.47" y2="602.47" stroke="#e7e7e7" stroke-width="4.45"/>
<line x1="117.60" x2="727.90" y1="508.60" y2="508.60" stroke="#e7e7e7" stroke-width="4.45"/>
<polygon points="145.3,772.3 148.8,771.5 152.3,770.7 155.7,769.8 159.2,769.0 162.7,768.1 166.1,767.2 169.6,766.2 173.1,765.2 176.5,764.2 180.0,763.1 183.5,762.0 187.0,760.9 190.4,759.8 193.9,758.6 197.4,757.4 200.8,756.1 204.3,754.8 207.8,753.5 211.2,752.1 214.7,750.7 218.2,749.3 221.6,747.8 225.1,746.3 228.6,744.8 232.0,743.2 235.5,741.6 239.0,740.0 242.4,738.3 245.9,736.6 249.4,734.8 252.8,733.0 256.3,731.2 259.8,729.3 263.2,727.4 266.7,725.5 270.2,723.5 273.6,721.5 277.1,719.4 280.6,717.3 284.0,715.1 287.5,712.9 291.0,710.6 294.4,708.3 297.9,706.0 301.4,703.6 304.9,701.1 308.3,698.6 311.8,696.0 315.3,693.4 318.7,690.7 322.2,687.9 325.7,685.1 329.1,682.2 332.6,679.2 336.1,676.2 339.5,673.1 343.0,670.0 346.5,666.8 349.9,663.5 353.4,660.1 356.9,656.7 360.3,653.3 363.8,649.8 367.3,646.2 370.7,642.6 374.2,639.0 377.7,635.3 381.1,631.6 384.6,627.9 388.1,624.1 391.5,620.4 395.0,616.6 398.5,612.9 401.9,609.2 405.4,605.5 408.9,601.8 412.3,598.2 415.8,594.7 419.3,591.1 422.8,587.7 426.2,584.3 429.7,581.0 433.2,577.7 436.6,574.6 440.1,571.5 443.6,568.5 447.0,565.6 450.5,562.9 454.0,560.2 457.4,557.6 460.9,555.1 464.4,552.8 467.8,550.5 471.3,548.4 474.8,546.3 478.2,544.4 481.7,542.5 485.2,540.7 488.6,539.1 492.1,537.5 495.6,536.0 499.0,534.5 502.5,533.2 506.0,531.9 509.4,530.6 512.9,529.5 516.4,528.4 519.8,527.3 523.3,526.4 526.8,525.4 530.2,524.5 533.7,523.7 537.2,522.9 540.6,522.2 544.1,521.4 547.6,520.8 551.1,520.1 554.5,519.5 558.0,519.0 561.5,518.4 564.9,517.9 568.4,517.4 571.9,517.0 575.3,516.6 578.8,516.1 582.3,515.8 585.7,515.4 589.2,515.0 592.7,514.7 596.1,514.4 599.6,514.1 603.1,513.8 606.5,513.6 610.0,513.3 613.5,513.1 616.9,512.8 620.4,512.6 623.9,512.4 627.3,512.2 630.8,512.1 634.3,511.9 637.7,511.7 641.2,511.6 644.7,511.4 648.1,511.3 651.6,511.1 655.1,511.0 658.5,510.9 662.0,510.8 665.5,510.7 669.0,510.6 672.4,510.5 675.9,510.4 679.4,510.3 682.8,510.2 686.3,510.1 689.8,510.1 693.2,510.0 696.7,509.9 700.2,509.8 700.2,510.2 696.7,510.3 693.2,510.4 689.8,510.5 686.3,510.6 682.8,510.7 679.4,510.8 675.9,510.9 672.4,511.0 669.0,511.2 665.5,511.3 662.0,511.4 658.5,511.6 655.1,511.8 651.6,511.9 648.1,512.1 644.7,512.3 641.2,512.5 637.7,512.7 634.3,512.9 630.8,513.1 627.3,513.4 623.9,513.6 620.4,513.9 616.9,514.2 613.5,514.5 610.0,514.8 606.5,515.1 603.1,515.5 599.6,515.8 596.1,516.2 592.7,516.6 589.2,517.1 585.7,517.5 582.3,518.0 578.8,518.5 575.3,519.1 571.9,519.7 568.4,520.3 564.9,520.9 561.5,521.6 558.0,522.3 554.5,523.1 551.1,523.9 547.6,524.7 544.1,525.6 540.6,526.5 537.2,527.5 533.7,528.6 530.2,529.7 526.8,530.8 523.3,532.1 519.8,533.4 516.4,534.7 512.9,536.2 509.4,537.7 506.0,539.3 502.5,540.9 499.0,542.7 495.6,544.5 492.1,546.4 488.6,548.4 485.2,550.5 481.7,552.7 478.2,555.0 474.8,557.3 471.3,559.8 467.8,562.3 464.4,565.0 460.9,567.7 457.4,570.5 454.0,573.4 450.5,576.4 447.0,579.4 443.6,582.6 440.1,585.8 436.6,589.1 433.2,592.4 429.7,595.9 426.2,599.4 422.8,602.9 419.3,606.5 415.8,610.1 412.3,613.8 408.9,617.5 405.4,621.2 401.9,624.9 398.5,628.6 395.0,632.3 391.5,636.0 388.1,639.6 384.6,643.3 381.1,646.8 377.7,650.4 374.2,653.9 370.7,657.3 367.3,660.7 363.8,664.0 360.3,667.3 356.9,670.5 353.4,673.6 349.9,676.7 346.5,679.7 343.0,682.7 339.5,685.5 336.1,688.3 332.6,691.1 329.1,693.8 325.7,696.4 322.2,699.0 318.7,701.5 315.3,704.0 311.8,706.4 308.3,708.7 304.9,711.0 301.4,713.2 297.9,715.5 294.4,717.6 291.0,719.7 287.5,721.8 284.0,723.8 280.6,725.8 277.1,727.7 273.6,729.6 270.2,731.5 266.7,733.3 263.2,735.1 259.8,736.9 256.3,738.6 252.8,740.2 249.4,741.9 245.9,743.5 242.4,745.0 239.0,746.6 235.5,748.1 232.0,749.5 228.6,751.0 225.1,752.3 221.6,753.7 218.2,755.0 214.7,756.3 211.2,757.6 207.8,758.8 204.3,760.0 200.8,761.1 197.4,762.2 193.9,763.3 190.4,764.4 187.0,765.4 183.5,766.4 180.0,767.3 176.5,768.2 173.1,769.1 169.6,770.0 166.1,770.8 162.7,771.6 159.2,772.4 155.7,773.1 152.3,773.9 148.8,774.6 145.3,775.2" fill="#555555" fill-opacity="0.16"/>
<polyline points="145.3,773.8 148.8,773.1 152.3,772.3 155.7,771.6 159.2,770.8 162.7,769.9 166.1,769.1 169.6,768.2 173.1,767.2 176.5,766.3 180.0,765.3 183.5,764.3 187.0,763.2 190.4,762.1 193.9,761.0 197.4,759.9 200.8,758.7 204.3,757.5 207.8,756.2 211.2,754.9 214.7,753.6 218.2,752.2 221.6,750.8 225.1,749.4 228.6,748.0 232.0,746.5 235.5,744.9 239.0,743.4 242.4,741.7 245.9,740.1 249.4,738.4 252.8,736.7 256.3,735.0 259.8,733.2 263.2,731.3 266.7,729.5 270.2,727.6 273.6,725.6 277.1,723.6 280.6,721.6 284.0,719.5 287.5,717.4 291.0,715.3 294.4,713.1 297.9,710.8 301.4,708.5 304.9,706.2 308.3,703.8 311.8,701.3 315.3,698.8 318.7,696.2 322.2,693.6 325.7,690.9 329.1,688.1 332.6,685.3 336.1,682.4 339.5,679.5 343.0,676.5 346.5,673.4 349.9,670.2 353.4,667.0 356.9,663.8 360.3,660.4 363.8,657.0 367.3,653.6 370.7,650.1 374.2,646.5 377.7,642.9 381.1,639.3 384.6,635.6 388.1,631.9 391.5,628.2 395.0,624.5 398.5,620.8 401.9,617.0 405.4,613.3 408.9,609.6 412.3,605.9 415.8,602.3 419.3,598.7 422.8,595.2 426.2,591.7 429.7,588.2 433.2,584.9 436.6,581.6 440.1,578.4 443.6,575.3 447.0,572.3 450.5,569.4 454.0,566.5 457.4,563.8 460.9,561.1 464.4,558.6 467.8,556.1 471.3,553.8 474.8,551.5 478.2,549.4 481.7,547.3 485.2,545.3 488.6,543.5 492.1,541.7 495.6,540.0 499.0,538.3 502.5,536.8 506.0,535.3 509.4,533.9 512.9,532.6 516.4,531.3 519.8,530.1 523.3,529.0 526.8,527.9 530.2,526.9 533.7,526.0 537.2,525.1 540.6,524.2 544.1,523.4 547.6,522.6 551.1,521.9 554.5,521.2 558.0,520.5 561.5,519.9 564.9,519.3 568.4,518.8 571.9,518.2 575.3,517.7 578.8,517.3 582.3,516.8 585.7,516.4 589.2,516.0 592.7,515.6 596.1,515.3 599.6,514.9 603.1,514.6 606.5,514.3 610.0,514.0 613.5,513.7 616.9,513.5 620.4,513.2 623.9,513.0 627.3,512.8 630.8,512.6 634.3,512.4 637.7,512.2 641.2,512.0 644.7,511.8 648.1,511.7 651.6,511.5 655.1,511.4 658.5,511.2 662.0,511.1 665.5,511.0 669.0,510.8 672.4,510.7 675.9,510.6 679.4,510.5 682.8,510.4 686.3,510.3 689.8,510.3 693.2,510.2 696.7,510.1 700.2,510.0" fill="none" stroke="#555555" stroke-width="6.5" stroke-linejoin="round"/>
<polyline points="233.6,731.5 292.9,723.5 326.4,685.1 367.7,636.6 435.4,589.5" fill="none" stroke="#340043" stroke-width="4.45" stroke-linejoin="round"/>
<polyline points="233.6,740.5 292.9,735.9 326.4,693.6 367.7,653.5 435.4,588.0" fill="none" stroke="#69c940" stroke-width="4.45" stroke-linejoin="round"/>
<line x1="233.6" x2="233.6" y1="718.5" y2="744.5" stroke="#340043" stroke-width="3.6"/>
<line x1="292.9" x2="292.9" y1="706.0" y2="741.0" stroke="#340043" stroke-width="3.6"/>
<line x1="326.4" x2="326.4" y1="662.1" y2="708.1" stroke="#340043" stroke-width="3.6"/>
<line x1="367.7" x2="367.7" y1="616.4" y2="656.8" stroke="#340043" stroke-width="3.6"/>
<line x1="435.4" x2="435.4" y1="570.5" y2="612.5" stroke="#340043" stroke-width="3.6"/>
<line x1="233.6" x2="233.6" y1="727.5" y2="753.5" stroke="#69c940" stroke-width="3.6"/>
<line x1="292.9" x2="292.9" y1="715.9" y2="755.9" stroke="#69c940" stroke-width="3.6"/>
<line x1="326.4" x2="326.4" y1="677.6" y2="709.6" stroke="#69c940" stroke-width="3.6"/>
<line x1="367.7" x2="367.7" y1="631.5" y2="675.5" stroke="#69c940" stroke-width="3.6"/>
<line x1="435.4" x2="435.4" y1="566.7" y2="608.0" stroke="#69c940" stroke-width="3.6"/>
<circle cx="233.6" cy="731.5" r="14.1" fill="#340043"/>
<circle cx="292.9" cy="723.5" r="14.1" fill="#340043"/>
<circle cx="326.4" cy="685.1" r="14.1" fill="#340043"/>
<circle cx="367.7" cy="636.6" r="14.1" fill="#340043"/>
<circle cx="435.4" cy="589.5" r="14.1" fill="#340043"/>
<circle cx="233.6" cy="740.5" r="14.1" fill="#69c940"/>
<circle cx="292.9" cy="735.9" r="14.1" fill="#69c940"/>
<circle cx="326.4" cy="693.6" r="14.1" fill="#69c940"/>
<circle cx="367.7" cy="653.5" r="14.1" fill="#69c940"/>
<circle cx="435.4" cy="588.0" r="14.1" fill="#69c940"/>
<text transform="translate(132.57,546.30) scale(0.8000,1.0000)" font-family="DejaVu Serif, Liberation Serif, serif" font-size="39.3" fill="#000">γ</text>
<text transform="translate(160.89,543.20) scale(0.9230,0.5500)" font-family="Liberation Sans, Arial, Helvetica, sans-serif" font-size="41.5" font-weight="bold" fill="#000">=</text>
<text transform="translate(192.44,550.20) scale(0.9660,1.0800)" font-family="Liberation Sans, Arial, Helvetica, sans-serif" font-size="41.5" fill="#000">−</text>
<text transform="translate(221.30,545.40) scale(1.0000,1.0407)" font-family="Liberation Sans, Arial, Helvetica, sans-serif" font-size="41.5" fill="#000">0.18</text>
<rect x="117.60" y="495.80" width="610.30" height="308.65" fill="none" stroke="#252525" stroke-width="4.45"/>
</g>
<g clip-path="url(#cs4)"><rect x="117.60" y="425.12" width="610.30" height="70.68" fill="#d1d1d1" stroke="#252525" stroke-width="4.45"/></g>
<text transform="translate(422.75,474.02) scale(1.0000,1.0200)" font-family="Liberation Sans, Arial, Helvetica, sans-serif" font-size="36.67" font-weight="bold" text-anchor="middle" fill="#111111">q4</text>
<line x1="106.14" x2="117.60" y1="790.20" y2="790.20" stroke="#252525" stroke-width="4.45"/>
<text transform="translate(96.15,803.90) scale(1.0000,1.0407)" font-family="Liberation Sans, Arial, Helvetica, sans-serif" font-size="36.67" text-anchor="end" fill="#3c3c3c">0</text>
<line x1="106.14" x2="117.60" y1="696.33" y2="696.33" stroke="#252525" stroke-width="4.45"/>
<text transform="translate(96.15,710.03) scale(1.0000,1.0407)" font-family="Liberation Sans, Arial, Helvetica, sans-serif" font-size="36.67" text-anchor="end" fill="#3c3c3c">1</text>
<line x1="106.14" x2="117.60" y1="602.47" y2="602.47" stroke="#252525" stroke-width="4.45"/>
<text transform="translate(96.15,616.17) scale(1.0000,1.0407)" font-family="Liberation Sans, Arial, Helvetica, sans-serif" font-size="36.67" text-anchor="end" fill="#3c3c3c">2</text>
<line x1="106.14" x2="117.60" y1="508.60" y2="508.60" stroke="#252525" stroke-width="4.45"/>
<text transform="translate(96.15,522.30) scale(1.0000,1.0407)" font-family="Liberation Sans, Arial, Helvetica, sans-serif" font-size="36.67" text-anchor="end" fill="#3c3c3c">3</text>
</g>
<g id="panel5">
<g clip-path="url(#cp5)">
<line x1="889.24" x2="889.24" y1="495.80" y2="804.45" stroke="#e7e7e7" stroke-width="2.23"/>
<line x1="1027.95" x2="1027.95" y1="495.80" y2="804.45" stroke="#e7e7e7" stroke-width="2.23"/>
<line x1="1166.65" x2="1166.65" y1="495.80" y2="804.45" stroke="#e7e7e7" stroke-width="2.23"/>
<line x1="1305.36" x2="1305.36" y1="495.80" y2="804.45" stroke="#e7e7e7" stroke-width="2.23"/>
<line x1="792.15" x2="1402.45" y1="743.23" y2="743.23" stroke="#e7e7e7" stroke-width="2.23"/>
<line x1="792.15" x2="1402.45" y1="649.30" y2="649.30" stroke="#e7e7e7" stroke-width="2.23"/>
<line x1="792.15" x2="1402.45" y1="555.37" y2="555.37" stroke="#e7e7e7" stroke-width="2.23"/>
<line x1="819.89" x2="819.89" y1="495.80" y2="804.45" stroke="#e7e7e7" stroke-width="4.45"/>
<line x1="958.60" x2="958.60" y1="495.80" y2="804.45" stroke="#e7e7e7" stroke-width="4.45"/>
<line x1="1097.30" x2="1097.30" y1="495.80" y2="804.45" stroke="#e7e7e7" stroke-width="4.45"/>
<line x1="1236.00" x2="1236.00" y1="495.80" y2="804.45" stroke="#e7e7e7" stroke-width="4.45"/>
<line x1="1374.71" x2="1374.71" y1="495.80" y2="804.45" stroke="#e7e7e7" stroke-width="4.45"/>
<line x1="792.15" x2="1402.45" y1="790.20" y2="790.20" stroke="#e7e7e7" stroke-width="4.45"/>
<line x1="792.15" x2="1402.45" y1="696.27" y2="696.27" stroke="#e7e7e7" stroke-width="4.45"/>
<line x1="792.15" x2="1402.45" y1="602.33" y2="602.33" stroke="#e7e7e7" stroke-width="4.45"/>
<line x1="792.15" x2="1402.45" y1="508.40" y2="508.40" stroke="#e7e7e7" stroke-width="4.45"/>
<polygon points="819.9,786.7 823.4,786.5 826.8,786.3 830.3,786.0 833.8,785.8 837.2,785.6 840.7,785.3 844.2,785.0 847.6,784.8 851.1,784.5 854.6,784.1 858.0,783.8 861.5,783.5 865.0,783.1 868.4,782.7 871.9,782.3 875.4,781.8 878.8,781.4 882.3,780.9 885.8,780.4 889.2,779.9 892.7,779.3 896.2,778.7 899.6,778.1 903.1,777.4 906.6,776.7 910.0,776.0 913.5,775.2 917.0,774.4 920.5,773.5 923.9,772.6 927.4,771.7 930.9,770.7 934.3,769.6 937.8,768.5 941.3,767.3 944.7,766.1 948.2,764.8 951.7,763.4 955.1,762.0 958.6,760.5 962.1,758.9 965.5,757.2 969.0,755.5 972.5,753.6 975.9,751.7 979.4,749.7 982.9,747.6 986.3,745.3 989.8,743.0 993.3,740.6 996.7,738.0 1000.2,735.4 1003.7,732.6 1007.1,729.7 1010.6,726.7 1014.1,723.5 1017.5,720.2 1021.0,716.9 1024.5,713.3 1027.9,709.7 1031.4,705.9 1034.9,702.0 1038.4,698.0 1041.8,693.9 1045.3,689.6 1048.8,685.3 1052.2,680.8 1055.7,676.3 1059.2,671.6 1062.6,666.9 1066.1,662.1 1069.6,657.3 1073.0,652.4 1076.5,647.4 1080.0,642.5 1083.4,637.5 1086.9,632.4 1090.4,627.4 1093.8,622.4 1097.3,617.4 1100.8,612.4 1104.2,607.5 1107.7,602.7 1111.2,597.9 1114.6,593.2 1118.1,588.7 1121.6,584.3 1125.0,580.0 1128.5,576.0 1132.0,572.1 1135.4,568.4 1138.9,565.0 1142.4,561.7 1145.8,558.6 1149.3,555.7 1152.8,553.0 1156.2,550.5 1159.7,548.1 1163.2,545.9 1166.7,543.8 1170.1,541.8 1173.6,540.0 1177.1,538.2 1180.5,536.6 1184.0,535.0 1187.5,533.6 1190.9,532.2 1194.4,530.9 1197.9,529.7 1201.3,528.6 1204.8,527.5 1208.3,526.4 1211.7,525.5 1215.2,524.5 1218.7,523.7 1222.1,522.9 1225.6,522.1 1229.1,521.3 1232.5,520.6 1236.0,520.0 1239.5,519.4 1242.9,518.8 1246.4,518.2 1249.9,517.7 1253.3,517.2 1256.8,516.7 1260.3,516.3 1263.7,515.9 1267.2,515.5 1270.7,515.1 1274.1,514.7 1277.6,514.4 1281.1,514.1 1284.6,513.8 1288.0,513.5 1291.5,513.2 1295.0,513.0 1298.4,512.7 1301.9,512.5 1305.4,512.3 1308.8,512.1 1312.3,511.9 1315.8,511.7 1319.2,511.5 1322.7,511.4 1326.2,511.2 1329.6,511.1 1333.1,510.9 1336.6,510.8 1340.0,510.7 1343.5,510.5 1347.0,510.4 1350.4,510.3 1353.9,510.2 1357.4,510.1 1360.8,510.0 1364.3,509.9 1367.8,509.9 1371.2,509.8 1374.7,509.7 1374.7,510.8 1371.2,510.9 1367.8,511.1 1364.3,511.2 1360.8,511.4 1357.4,511.6 1353.9,511.7 1350.4,511.9 1347.0,512.1 1343.5,512.3 1340.0,512.5 1336.6,512.8 1333.1,513.0 1329.6,513.3 1326.2,513.6 1322.7,513.8 1319.2,514.1 1315.8,514.5 1312.3,514.8 1308.8,515.2 1305.4,515.6 1301.9,516.0 1298.4,516.4 1295.0,516.8 1291.5,517.3 1288.0,517.8 1284.6,518.3 1281.1,518.9 1277.6,519.5 1274.1,520.1 1270.7,520.8 1267.2,521.5 1263.7,522.2 1260.3,523.0 1256.8,523.8 1253.3,524.7 1249.9,525.6 1246.4,526.6 1242.9,527.6 1239.5,528.7 1236.0,529.9 1232.5,531.1 1229.1,532.4 1225.6,533.7 1222.1,535.2 1218.7,536.7 1215.2,538.3 1211.7,539.9 1208.3,541.7 1204.8,543.6 1201.3,545.5 1197.9,547.6 1194.4,549.7 1190.9,552.0 1187.5,554.3 1184.0,556.8 1180.5,559.4 1177.1,562.0 1173.6,564.8 1170.1,567.7 1166.7,570.7 1163.2,573.7 1159.7,576.9 1156.2,580.1 1152.8,583.4 1149.3,586.7 1145.8,590.1 1142.4,593.6 1138.9,597.1 1135.4,600.6 1132.0,604.2 1128.5,607.8 1125.0,611.4 1121.6,615.1 1118.1,618.9 1114.6,622.8 1111.2,626.8 1107.7,630.8 1104.2,634.9 1100.8,639.2 1097.3,643.5 1093.8,647.8 1090.4,652.2 1086.9,656.7 1083.4,661.2 1080.0,665.6 1076.5,670.1 1073.0,674.6 1069.6,679.0 1066.1,683.3 1062.6,687.6 1059.2,691.8 1055.7,695.9 1052.2,699.9 1048.8,703.8 1045.3,707.6 1041.8,711.3 1038.4,714.9 1034.9,718.3 1031.4,721.6 1027.9,724.8 1024.5,727.9 1021.0,730.9 1017.5,733.7 1014.1,736.5 1010.6,739.1 1007.1,741.6 1003.7,744.0 1000.2,746.2 996.7,748.4 993.3,750.5 989.8,752.5 986.3,754.4 982.9,756.2 979.4,757.9 975.9,759.5 972.5,761.1 969.0,762.6 965.5,764.0 962.1,765.3 958.6,766.6 955.1,767.8 951.7,768.9 948.2,770.0 944.7,771.1 941.3,772.0 937.8,773.0 934.3,773.9 930.9,774.7 927.4,775.5 923.9,776.3 920.5,777.0 917.0,777.7 913.5,778.3 910.0,778.9 906.6,779.5 903.1,780.1 899.6,780.6 896.2,781.1 892.7,781.6 889.2,782.0 885.8,782.4 882.3,782.9 878.8,783.2 875.4,783.6 871.9,783.9 868.4,784.3 865.0,784.6 861.5,784.9 858.0,785.1 854.6,785.4 851.1,785.7 847.6,785.9 844.2,786.1 840.7,786.3 837.2,786.5 833.8,786.7 830.3,786.9 826.8,787.1 823.4,787.2 819.9,787.4" fill="#555555" fill-opacity="0.16"/>
<polyline points="819.9,787.0 823.4,786.9 826.8,786.7 830.3,786.5 833.8,786.3 837.2,786.1 840.7,785.9 844.2,785.6 847.6,785.4 851.1,785.1 854.6,784.8 858.0,784.5 861.5,784.2 865.0,783.9 868.4,783.5 871.9,783.2 875.4,782.8 878.8,782.4 882.3,781.9 885.8,781.5 889.2,781.0 892.7,780.5 896.2,780.0 899.6,779.4 903.1,778.8 906.6,778.2 910.0,777.5 913.5,776.8 917.0,776.1 920.5,775.4 923.9,774.5 927.4,773.7 930.9,772.8 934.3,771.9 937.8,770.9 941.3,769.8 944.7,768.7 948.2,767.5 951.7,766.3 955.1,765.0 958.6,763.7 962.1,762.3 965.5,760.8 969.0,759.2 972.5,757.6 975.9,755.8 979.4,754.0 982.9,752.1 986.3,750.1 989.8,748.0 993.3,745.8 996.7,743.5 1000.2,741.1 1003.7,738.5 1007.1,735.9 1010.6,733.2 1014.1,730.3 1017.5,727.3 1021.0,724.2 1024.5,720.9 1027.9,717.6 1031.4,714.1 1034.9,710.5 1038.4,706.7 1041.8,702.9 1045.3,698.9 1048.8,694.8 1052.2,690.6 1055.7,686.3 1059.2,681.9 1062.6,677.5 1066.1,672.9 1069.6,668.3 1073.0,663.6 1076.5,658.9 1080.0,654.1 1083.4,649.3 1086.9,644.6 1090.4,639.8 1093.8,635.0 1097.3,630.3 1100.8,625.6 1104.2,620.9 1107.7,616.4 1111.2,611.9 1114.6,607.5 1118.1,603.2 1121.6,599.0 1125.0,594.9 1128.5,590.9 1132.0,587.0 1135.4,583.3 1138.9,579.7 1142.4,576.2 1145.8,572.9 1149.3,569.7 1152.8,566.6 1156.2,563.6 1159.7,560.8 1163.2,558.1 1166.7,555.5 1170.1,553.1 1173.6,550.7 1177.1,548.5 1180.5,546.4 1184.0,544.4 1187.5,542.5 1190.9,540.7 1194.4,539.0 1197.9,537.3 1201.3,535.8 1204.8,534.3 1208.3,532.9 1211.7,531.6 1215.2,530.4 1218.7,529.2 1222.1,528.1 1225.6,527.0 1229.1,526.0 1232.5,525.1 1236.0,524.2 1239.5,523.3 1242.9,522.5 1246.4,521.8 1249.9,521.1 1253.3,520.4 1256.8,519.7 1260.3,519.1 1263.7,518.6 1267.2,518.0 1270.7,517.5 1274.1,517.0 1277.6,516.6 1281.1,516.1 1284.6,515.7 1288.0,515.3 1291.5,515.0 1295.0,514.6 1298.4,514.3 1301.9,514.0 1305.4,513.7 1308.8,513.4 1312.3,513.1 1315.8,512.9 1319.2,512.6 1322.7,512.4 1326.2,512.2 1329.6,512.0 1333.1,511.8 1336.6,511.6 1340.0,511.5 1343.5,511.3 1347.0,511.1 1350.4,511.0 1353.9,510.9 1357.4,510.7 1360.8,510.6 1364.3,510.5 1367.8,510.4 1371.2,510.3 1374.7,510.2" fill="none" stroke="#555555" stroke-width="6.5" stroke-linejoin="round"/>
<polyline points="908.1,768.3 967.5,759.7 1001.0,749.1 1042.2,702.1 1109.9,631.7" fill="none" stroke="#340043" stroke-width="4.45" stroke-linejoin="round"/>
<polyline points="908.1,778.9 967.5,757.6 1001.0,735.8 1042.2,710.6 1109.9,625.3" fill="none" stroke="#69c940" stroke-width="4.45" stroke-linejoin="round"/>
<line x1="908.1" x2="908.1" y1="756.3" y2="780.3" stroke="#340043" stroke-width="3.6"/>
<line x1="967.5" x2="967.5" y1="744.7" y2="774.7" stroke="#340043" stroke-width="3.6"/>
<line x1="1001.0" x2="1001.0" y1="729.1" y2="769.1" stroke="#340043" stroke-width="3.6"/>
<line x1="1042.2" x2="1042.2" y1="682.1" y2="722.1" stroke="#340043" stroke-width="3.6"/>
<line x1="1109.9" x2="1109.9" y1="607.7" y2="655.7" stroke="#340043" stroke-width="3.6"/>
<line x1="908.1" x2="908.1" y1="766.9" y2="790.9" stroke="#69c940" stroke-width="3.6"/>
<line x1="967.5" x2="967.5" y1="737.8" y2="777.4" stroke="#69c940" stroke-width="3.6"/>
<line x1="1001.0" x2="1001.0" y1="714.8" y2="756.8" stroke="#69c940" stroke-width="3.6"/>
<line x1="1042.2" x2="1042.2" y1="686.6" y2="734.6" stroke="#69c940" stroke-width="3.6"/>
<line x1="1109.9" x2="1109.9" y1="600.3" y2="650.3" stroke="#69c940" stroke-width="3.6"/>
<circle cx="908.1" cy="768.3" r="14.1" fill="#340043"/>
<circle cx="967.5" cy="759.7" r="14.1" fill="#340043"/>
<circle cx="1001.0" cy="749.1" r="14.1" fill="#340043"/>
<circle cx="1042.2" cy="702.1" r="14.1" fill="#340043"/>
<circle cx="1109.9" cy="631.7" r="14.1" fill="#340043"/>
<circle cx="908.1" cy="778.9" r="14.1" fill="#69c940"/>
<circle cx="967.5" cy="757.6" r="14.1" fill="#69c940"/>
<circle cx="1001.0" cy="735.8" r="14.1" fill="#69c940"/>
<circle cx="1042.2" cy="710.6" r="14.1" fill="#69c940"/>
<circle cx="1109.9" cy="625.3" r="14.1" fill="#69c940"/>
<text transform="translate(806.12,546.30) scale(0.8000,1.0000)" font-family="DejaVu Serif, Liberation Serif, serif" font-size="39.3" fill="#000">γ</text>
<text transform="translate(834.44,543.20) scale(0.9230,0.5500)" font-family="Liberation Sans, Arial, Helvetica, sans-serif" font-size="41.5" font-weight="bold" fill="#000">=</text>
<text transform="translate(865.99,550.20) scale(0.9660,1.0800)" font-family="Liberation Sans, Arial, Helvetica, sans-serif" font-size="41.5" fill="#000">−</text>
<text transform="translate(894.85,545.40) scale(1.0000,1.0407)" font-family="Liberation Sans, Arial, Helvetica, sans-serif" font-size="41.5" fill="#000">0.11</text>
<rect x="792.15" y="495.80" width="610.30" height="308.65" fill="none" stroke="#252525" stroke-width="4.45"/>
</g>
<g clip-path="url(#cs5)"><rect x="792.15" y="425.12" width="610.30" height="70.68" fill="#d1d1d1" stroke="#252525" stroke-width="4.45"/></g>
<text transform="translate(1097.30,474.02) scale(1.0000,1.0200)" font-family="Liberation Sans, Arial, Helvetica, sans-serif" font-size="36.67" font-weight="bold" text-anchor="middle" fill="#111111">q5</text>
<line x1="780.69" x2="792.15" y1="790.20" y2="790.20" stroke="#252525" stroke-width="4.45"/>
<text transform="translate(770.70,803.90) scale(1.0000,1.0407)" font-family="Liberation Sans, Arial, Helvetica, sans-serif" font-size="36.67" text-anchor="end" fill="#3c3c3c">0</text>
<line x1="780.69" x2="792.15" y1="696.27" y2="696.27" stroke="#252525" stroke-width="4.45"/>
<text transform="translate(770.70,709.97) scale(1.0000,1.0407)" font-family="Liberation Sans, Arial, Helvetica, sans-serif" font-size="36.67" text-anchor="end" fill="#3c3c3c">1</text>
<line x1="780.69" x2="792.15" y1="602.33" y2="602.33" stroke="#252525" stroke-width="4.45"/>
<text transform="translate(770.70,616.03) scale(1.0000,1.0407)" font-family="Liberation Sans, Arial, Helvetica, sans-serif" font-size="36.67" text-anchor="end" fill="#3c3c3c">2</text>
<line x1="780.69" x2="792.15" y1="508.40" y2="508.40" stroke="#252525" stroke-width="4.45"/>
<text transform="translate(770.70,522.10) scale(1.0000,1.0407)" font-family="Liberation Sans, Arial, Helvetica, sans-serif" font-size="36.67" text-anchor="end" fill="#3c3c3c">3</text>
</g>
<g id="panel6">
<g clip-path="url(#cp6)">
<line x1="1563.59" x2="1563.59" y1="495.80" y2="804.45" stroke="#e7e7e7" stroke-width="2.23"/>
<line x1="1702.30" x2="1702.30" y1="495.80" y2="804.45" stroke="#e7e7e7" stroke-width="2.23"/>
<line x1="1841.00" x2="1841.00" y1="495.80" y2="804.45" stroke="#e7e7e7" stroke-width="2.23"/>
<line x1="1979.71" x2="1979.71" y1="495.80" y2="804.45" stroke="#e7e7e7" stroke-width="2.23"/>
<line x1="1466.50" x2="2076.80" y1="743.23" y2="743.23" stroke="#e7e7e7" stroke-width="2.23"/>
<line x1="1466.50" x2="2076.80" y1="649.30" y2="649.30" stroke="#e7e7e7" stroke-width="2.23"/>
<line x1="1466.50" x2="2076.80" y1="555.37" y2="555.37" stroke="#e7e7e7" stroke-width="2.23"/>
<line x1="1494.24" x2="1494.24" y1="495.80" y2="804.45" stroke="#e7e7e7" stroke-width="4.45"/>
<line x1="1632.95" x2="1632.95" y1="495.80" y2="804.45" stroke="#e7e7e7" stroke-width="4.45"/>
<line x1="1771.65" x2="1771.65" y1="495.80" y2="804.45" stroke="#e7e7e7" stroke-width="4.45"/>
<line x1="1910.35" x2="1910.35" y1="495.80" y2="804.45" stroke="#e7e7e7" stroke-width="4.45"/>
<line x1="2049.06" x2="2049.06" y1="495.80" y2="804.45" stroke="#e7e7e7" stroke-width="4.45"/>
<line x1="1466.50" x2="2076.80" y1="790.20" y2="790.20" stroke="#e7e7e7" stroke-width="4.45"/>
<line x1="1466.50" x2="2076.80" y1="696.27" y2="696.27" stroke="#e7e7e7" stroke-width="4.45"/>
<line x1="1466.50" x2="2076.80" y1="602.33" y2="602.33" stroke="#e7e7e7" stroke-width="4.45"/>
<line x1="1466.50" x2="2076.80" y1="508.40" y2="508.40" stroke="#e7e7e7" stroke-width="4.45"/>
<polygon points="1494.2,787.2 1497.7,787.1 1501.2,786.9 1504.6,786.8 1508.1,786.6 1511.6,786.4 1515.0,786.2 1518.5,786.0 1522.0,785.8 1525.4,785.6 1528.9,785.4 1532.4,785.1 1535.9,784.9 1539.3,784.6 1542.8,784.3 1546.3,784.1 1549.7,783.7 1553.2,783.4 1556.7,783.1 1560.1,782.7 1563.6,782.4 1567.1,782.0 1570.5,781.6 1574.0,781.1 1577.5,780.7 1580.9,780.2 1584.4,779.7 1587.9,779.2 1591.3,778.6 1594.8,778.0 1598.3,777.4 1601.7,776.8 1605.2,776.1 1608.7,775.4 1612.1,774.6 1615.6,773.8 1619.1,773.0 1622.5,772.1 1626.0,771.2 1629.5,770.2 1632.9,769.2 1636.4,768.1 1639.9,766.9 1643.3,765.7 1646.8,764.4 1650.3,763.1 1653.8,761.6 1657.2,760.1 1660.7,758.5 1664.2,756.9 1667.6,755.1 1671.1,753.2 1674.6,751.2 1678.0,749.1 1681.5,746.9 1685.0,744.6 1688.4,742.1 1691.9,739.5 1695.4,736.8 1698.8,733.9 1702.3,730.9 1705.8,727.7 1709.2,724.3 1712.7,720.8 1716.2,717.1 1719.6,713.2 1723.1,709.2 1726.6,704.9 1730.0,700.5 1733.5,696.0 1737.0,691.2 1740.4,686.3 1743.9,681.2 1747.4,676.0 1750.8,670.6 1754.3,665.1 1757.8,659.5 1761.2,653.7 1764.7,647.9 1768.2,642.0 1771.7,636.0 1775.1,630.1 1778.6,624.1 1782.1,618.1 1785.5,612.2 1789.0,606.4 1792.5,600.7 1795.9,595.1 1799.4,589.8 1802.9,584.7 1806.3,579.8 1809.8,575.2 1813.3,570.8 1816.7,566.8 1820.2,562.9 1823.7,559.4 1827.1,556.1 1830.6,553.0 1834.1,550.2 1837.5,547.5 1841.0,545.0 1844.5,542.7 1847.9,540.6 1851.4,538.6 1854.9,536.7 1858.3,535.0 1861.8,533.4 1865.3,531.9 1868.7,530.5 1872.2,529.2 1875.7,527.9 1879.1,526.8 1882.6,525.7 1886.1,524.7 1889.5,523.8 1893.0,522.9 1896.5,522.0 1900.0,521.3 1903.4,520.5 1906.9,519.9 1910.4,519.2 1913.8,518.6 1917.3,518.1 1920.8,517.5 1924.2,517.0 1927.7,516.6 1931.2,516.1 1934.6,515.7 1938.1,515.3 1941.6,514.9 1945.0,514.6 1948.5,514.3 1952.0,514.0 1955.4,513.7 1958.9,513.4 1962.4,513.1 1965.8,512.9 1969.3,512.7 1972.8,512.4 1976.2,512.2 1979.7,512.0 1983.2,511.8 1986.6,511.7 1990.1,511.5 1993.6,511.3 1997.0,511.2 2000.5,511.1 2004.0,510.9 2007.4,510.8 2010.9,510.7 2014.4,510.6 2017.9,510.5 2021.3,510.4 2024.8,510.3 2028.3,510.2 2031.7,510.1 2035.2,510.0 2038.7,509.9 2042.1,509.8 2045.6,509.8 2049.1,509.7 2049.1,510.7 2045.6,510.8 2042.1,510.9 2038.7,511.0 2035.2,511.2 2031.7,511.3 2028.3,511.5 2024.8,511.6 2021.3,511.8 2017.9,512.0 2014.4,512.2 2010.9,512.4 2007.4,512.6 2004.0,512.8 2000.5,513.1 1997.0,513.3 1993.6,513.6 1990.1,513.9 1986.6,514.2 1983.2,514.5 1979.7,514.9 1976.2,515.2 1972.8,515.6 1969.3,516.0 1965.8,516.5 1962.4,516.9 1958.9,517.4 1955.4,517.9 1952.0,518.5 1948.5,519.1 1945.0,519.7 1941.6,520.4 1938.1,521.1 1934.6,521.9 1931.2,522.7 1927.7,523.6 1924.2,524.5 1920.8,525.5 1917.3,526.5 1913.8,527.6 1910.4,528.8 1906.9,530.1 1903.4,531.5 1900.0,532.9 1896.5,534.5 1893.0,536.2 1889.5,537.9 1886.1,539.8 1882.6,541.8 1879.1,543.9 1875.7,546.2 1872.2,548.6 1868.7,551.1 1865.3,553.8 1861.8,556.6 1858.3,559.6 1854.9,562.7 1851.4,566.0 1847.9,569.4 1844.5,573.0 1841.0,576.7 1837.5,580.6 1834.1,584.6 1830.6,588.6 1827.1,592.8 1823.7,597.0 1820.2,601.4 1816.7,605.7 1813.3,610.1 1809.8,614.6 1806.3,619.0 1802.9,623.5 1799.4,628.1 1795.9,632.6 1792.5,637.3 1789.0,641.9 1785.5,646.7 1782.1,651.4 1778.6,656.3 1775.1,661.1 1771.7,666.0 1768.2,670.8 1764.7,675.6 1761.2,680.4 1757.8,685.2 1754.3,689.8 1750.8,694.4 1747.4,698.8 1743.9,703.1 1740.4,707.3 1737.0,711.3 1733.5,715.2 1730.0,718.9 1726.6,722.5 1723.1,725.9 1719.6,729.1 1716.2,732.2 1712.7,735.2 1709.2,738.0 1705.8,740.6 1702.3,743.2 1698.8,745.6 1695.4,747.9 1691.9,750.0 1688.4,752.1 1685.0,754.0 1681.5,755.8 1678.0,757.6 1674.6,759.2 1671.1,760.8 1667.6,762.2 1664.2,763.6 1660.7,764.9 1657.2,766.2 1653.8,767.4 1650.3,768.5 1646.8,769.6 1643.3,770.6 1639.9,771.5 1636.4,772.5 1632.9,773.3 1629.5,774.1 1626.0,774.9 1622.5,775.7 1619.1,776.4 1615.6,777.0 1612.1,777.7 1608.7,778.3 1605.2,778.8 1601.7,779.4 1598.3,779.9 1594.8,780.4 1591.3,780.9 1587.9,781.3 1584.4,781.7 1580.9,782.1 1577.5,782.5 1574.0,782.9 1570.5,783.2 1567.1,783.6 1563.6,783.9 1560.1,784.2 1556.7,784.5 1553.2,784.7 1549.7,785.0 1546.3,785.2 1542.8,785.5 1539.3,785.7 1535.9,785.9 1532.4,786.1 1528.9,786.3 1525.4,786.5 1522.0,786.7 1518.5,786.8 1515.0,787.0 1511.6,787.1 1508.1,787.3 1504.6,787.4 1501.2,787.6 1497.7,787.7 1494.2,787.8" fill="#555555" fill-opacity="0.16"/>
<polyline points="1494.2,787.5 1497.7,787.4 1501.2,787.3 1504.6,787.1 1508.1,787.0 1511.6,786.8 1515.0,786.6 1518.5,786.5 1522.0,786.3 1525.4,786.1 1528.9,785.9 1532.4,785.7 1535.9,785.4 1539.3,785.2 1542.8,784.9 1546.3,784.7 1549.7,784.4 1553.2,784.1 1556.7,783.8 1560.1,783.5 1563.6,783.2 1567.1,782.8 1570.5,782.4 1574.0,782.1 1577.5,781.6 1580.9,781.2 1584.4,780.8 1587.9,780.3 1591.3,779.8 1594.8,779.3 1598.3,778.7 1601.7,778.1 1605.2,777.5 1608.7,776.9 1612.1,776.2 1615.6,775.5 1619.1,774.8 1622.5,774.0 1626.0,773.1 1629.5,772.3 1632.9,771.4 1636.4,770.4 1639.9,769.4 1643.3,768.3 1646.8,767.2 1650.3,766.0 1653.8,764.7 1657.2,763.3 1660.7,761.9 1664.2,760.4 1667.6,758.9 1671.1,757.2 1674.6,755.5 1678.0,753.6 1681.5,751.6 1685.0,749.6 1688.4,747.4 1691.9,745.1 1695.4,742.7 1698.8,740.1 1702.3,737.4 1705.8,734.5 1709.2,731.5 1712.7,728.4 1716.2,725.1 1719.6,721.6 1723.1,717.9 1726.6,714.1 1730.0,710.1 1733.5,706.0 1737.0,701.7 1740.4,697.2 1743.9,692.6 1747.4,687.8 1750.8,682.8 1754.3,677.8 1757.8,672.6 1761.2,667.4 1764.7,662.0 1768.2,656.6 1771.7,651.1 1775.1,645.6 1778.6,640.1 1782.1,634.6 1785.5,629.1 1789.0,623.7 1792.5,618.4 1795.9,613.2 1799.4,608.0 1802.9,603.0 1806.3,598.2 1809.8,593.4 1813.3,588.9 1816.7,584.5 1820.2,580.3 1823.7,576.2 1827.1,572.4 1830.6,568.7 1834.1,565.2 1837.5,561.8 1841.0,558.7 1844.5,555.7 1847.9,552.9 1851.4,550.2 1854.9,547.7 1858.3,545.3 1861.8,543.1 1865.3,541.0 1868.7,539.1 1872.2,537.2 1875.7,535.5 1879.1,533.9 1882.6,532.4 1886.1,530.9 1889.5,529.6 1893.0,528.4 1896.5,527.2 1900.0,526.1 1903.4,525.1 1906.9,524.1 1910.4,523.2 1913.8,522.4 1917.3,521.6 1920.8,520.8 1924.2,520.1 1927.7,519.5 1931.2,518.9 1934.6,518.3 1938.1,517.7 1941.6,517.2 1945.0,516.7 1948.5,516.3 1952.0,515.9 1955.4,515.5 1958.9,515.1 1962.4,514.7 1965.8,514.4 1969.3,514.1 1972.8,513.8 1976.2,513.5 1979.7,513.2 1983.2,513.0 1986.6,512.7 1990.1,512.5 1993.6,512.3 1997.0,512.1 2000.5,511.9 2004.0,511.7 2007.4,511.6 2010.9,511.4 2014.4,511.3 2017.9,511.1 2021.3,511.0 2024.8,510.8 2028.3,510.7 2031.7,510.6 2035.2,510.5 2038.7,510.4 2042.1,510.3 2045.6,510.2 2049.1,510.1" fill="none" stroke="#555555" stroke-width="6.5" stroke-linejoin="round"/>
<polyline points="1582.5,784.8 1641.8,771.9 1675.3,739.5 1716.6,727.7 1784.3,626.0" fill="none" stroke="#340043" stroke-width="4.45" stroke-linejoin="round"/>
<polyline points="1582.5,784.3 1641.8,766.2 1675.3,754.4 1716.6,718.2 1784.3,626.4" fill="none" stroke="#69c940" stroke-width="4.45" stroke-linejoin="round"/>
<line x1="1582.5" x2="1582.5" y1="776.8" y2="792.8" stroke="#340043" stroke-width="3.6"/>
<line x1="1641.8" x2="1641.8" y1="759.9" y2="783.9" stroke="#340043" stroke-width="3.6"/>
<line x1="1675.3" x2="1675.3" y1="720.7" y2="758.3" stroke="#340043" stroke-width="3.6"/>
<line x1="1716.6" x2="1716.6" y1="710.6" y2="744.8" stroke="#340043" stroke-width="3.6"/>
<line x1="1784.3" x2="1784.3" y1="601.0" y2="651.0" stroke="#340043" stroke-width="3.6"/>
<line x1="1582.5" x2="1582.5" y1="776.3" y2="792.3" stroke="#69c940" stroke-width="3.6"/>
<line x1="1641.8" x2="1641.8" y1="754.2" y2="778.2" stroke="#69c940" stroke-width="3.6"/>
<line x1="1675.3" x2="1675.3" y1="741.4" y2="767.4" stroke="#69c940" stroke-width="3.6"/>
<line x1="1716.6" x2="1716.6" y1="699.0" y2="737.4" stroke="#69c940" stroke-width="3.6"/>
<line x1="1784.3" x2="1784.3" y1="599.7" y2="653.1" stroke="#69c940" stroke-width="3.6"/>
<circle cx="1582.5" cy="784.8" r="14.1" fill="#340043"/>
<circle cx="1641.8" cy="771.9" r="14.1" fill="#340043"/>
<circle cx="1675.3" cy="739.5" r="14.1" fill="#340043"/>
<circle cx="1716.6" cy="727.7" r="14.1" fill="#340043"/>
<circle cx="1784.3" cy="626.0" r="14.1" fill="#340043"/>
<circle cx="1582.5" cy="784.3" r="14.1" fill="#69c940"/>
<circle cx="1641.8" cy="766.2" r="14.1" fill="#69c940"/>
<circle cx="1675.3" cy="754.4" r="14.1" fill="#69c940"/>
<circle cx="1716.6" cy="718.2" r="14.1" fill="#69c940"/>
<circle cx="1784.3" cy="626.4" r="14.1" fill="#69c940"/>
<text transform="translate(1480.87,546.30) scale(0.8000,1.0000)" font-family="DejaVu Serif, Liberation Serif, serif" font-size="39.3" fill="#000">γ</text>
<text transform="translate(1509.19,543.20) scale(0.9230,0.5500)" font-family="Liberation Sans, Arial, Helvetica, sans-serif" font-size="41.5" font-weight="bold" fill="#000">=</text>
<text transform="translate(1540.74,550.20) scale(0.9660,1.0800)" font-family="Liberation Sans, Arial, Helvetica, sans-serif" font-size="41.5" fill="#000">−</text>
<text transform="translate(1569.60,545.40) scale(1.0000,1.0407)" font-family="Liberation Sans, Arial, Helvetica, sans-serif" font-size="41.5" fill="#000">0.04</text>
<rect x="1466.50" y="495.80" width="610.30" height="308.65" fill="none" stroke="#252525" stroke-width="4.45"/>
</g>
<g clip-path="url(#cs6)"><rect x="1466.50" y="425.12" width="610.30" height="70.68" fill="#d1d1d1" stroke="#252525" stroke-width="4.45"/></g>
<text transform="translate(1771.65,474.02) scale(1.0000,1.0200)" font-family="Liberation Sans, Arial, Helvetica, sans-serif" font-size="36.67" font-weight="bold" text-anchor="middle" fill="#111111">q6</text>
<line x1="1455.04" x2="1466.50" y1="790.20" y2="790.20" stroke="#252525" stroke-width="4.45"/>
<text transform="translate(1445.05,803.90) scale(1.0000,1.0407)" font-family="Liberation Sans, Arial, Helvetica, sans-serif" font-size="36.67" text-anchor="end" fill="#3c3c3c">0</text>
<line x1="1455.04" x2="1466.50" y1="696.27" y2="696.27" stroke="#252525" stroke-width="4.45"/>
<text transform="translate(1445.05,709.97) scale(1.0000,1.0407)" font-family="Liberation Sans, Arial, Helvetica, sans-serif" font-size="36.67" text-anchor="end" fill="#3c3c3c">1</text>
<line x1="1455.04" x2="1466.50" y1="602.33" y2="602.33" stroke="#252525" stroke-width="4.45"/>
<text transform="translate(1445.05,616.03) scale(1.0000,1.0407)" font-family="Liberation Sans, Arial, Helvetica, sans-serif" font-size="36.67" text-anchor="end" fill="#3c3c3c">2</text>
<line x1="1455.04" x2="1466.50" y1="508.40" y2="508.40" stroke="#252525" stroke-width="4.45"/>
<text transform="translate(1445.05,522.10) scale(1.0000,1.0407)" font-family="Liberation Sans, Arial, Helvetica, sans-serif" font-size="36.67" text-anchor="end" fill="#3c3c3c">3</text>
</g>
<g id="panel7">
<g clip-path="url(#cp7)">
<line x1="214.69" x2="214.69" y1="898.00" y2="1206.67" stroke="#e7e7e7" stroke-width="2.23"/>
<line x1="353.40" x2="353.40" y1="898.00" y2="1206.67" stroke="#e7e7e7" stroke-width="2.23"/>
<line x1="492.10" x2="492.10" y1="898.00" y2="1206.67" stroke="#e7e7e7" stroke-width="2.23"/>
<line x1="630.81" x2="630.81" y1="898.00" y2="1206.67" stroke="#e7e7e7" stroke-width="2.23"/>
<line x1="117.60" x2="727.90" y1="1145.52" y2="1145.52" stroke="#e7e7e7" stroke-width="2.23"/>
<line x1="117.60" x2="727.90" y1="1051.15" y2="1051.15" stroke="#e7e7e7" stroke-width="2.23"/>
<line x1="117.60" x2="727.90" y1="956.78" y2="956.78" stroke="#e7e7e7" stroke-width="2.23"/>
<line x1="145.34" x2="145.34" y1="898.00" y2="1206.67" stroke="#e7e7e7" stroke-width="4.45"/>
<line x1="284.05" x2="284.05" y1="898.00" y2="1206.67" stroke="#e7e7e7" stroke-width="4.45"/>
<line x1="422.75" x2="422.75" y1="898.00" y2="1206.67" stroke="#e7e7e7" stroke-width="4.45"/>
<line x1="561.45" x2="561.45" y1="898.00" y2="1206.67" stroke="#e7e7e7" stroke-width="4.45"/>
<line x1="700.16" x2="700.16" y1="898.00" y2="1206.67" stroke="#e7e7e7" stroke-width="4.45"/>
<line x1="117.60" x2="727.90" y1="1192.70" y2="1192.70" stroke="#e7e7e7" stroke-width="4.45"/>
<line x1="117.60" x2="727.90" y1="1098.33" y2="1098.33" stroke="#e7e7e7" stroke-width="4.45"/>
<line x1="117.60" x2="727.90" y1="1003.97" y2="1003.97" stroke="#e7e7e7" stroke-width="4.45"/>
<line x1="117.60" x2="727.90" y1="909.60" y2="909.60" stroke="#e7e7e7" stroke-width="4.45"/>
<polygon points="145.3,1190.0 148.8,1189.8 152.3,1189.7 155.7,1189.5 159.2,1189.3 162.7,1189.1 166.1,1188.9 169.6,1188.7 173.1,1188.4 176.5,1188.2 180.0,1187.9 183.5,1187.6 187.0,1187.3 190.4,1187.0 193.9,1186.7 197.4,1186.3 200.8,1186.0 204.3,1185.6 207.8,1185.2 211.2,1184.7 214.7,1184.3 218.2,1183.8 221.6,1183.3 225.1,1182.8 228.6,1182.2 232.0,1181.6 235.5,1181.0 239.0,1180.3 242.4,1179.6 245.9,1178.9 249.4,1178.1 252.8,1177.3 256.3,1176.5 259.8,1175.6 263.2,1174.7 266.7,1173.7 270.2,1172.7 273.6,1171.6 277.1,1170.5 280.6,1169.3 284.0,1168.1 287.5,1166.8 291.0,1165.5 294.4,1164.1 297.9,1162.6 301.4,1161.1 304.9,1159.5 308.3,1157.8 311.8,1156.1 315.3,1154.3 318.7,1152.5 322.2,1150.5 325.7,1148.5 329.1,1146.4 332.6,1144.3 336.1,1142.0 339.5,1139.7 343.0,1137.3 346.5,1134.8 349.9,1132.3 353.4,1129.6 356.9,1126.9 360.3,1124.0 363.8,1121.1 367.3,1118.1 370.7,1115.0 374.2,1111.8 377.7,1108.5 381.1,1105.1 384.6,1101.6 388.1,1098.1 391.5,1094.4 395.0,1090.6 398.5,1086.7 401.9,1082.7 405.4,1078.6 408.9,1074.4 412.3,1070.0 415.8,1065.6 419.3,1061.0 422.8,1056.3 426.2,1051.5 429.7,1046.6 433.2,1041.6 436.6,1036.5 440.1,1031.4 443.6,1026.2 447.0,1021.1 450.5,1016.0 454.0,1010.9 457.4,1006.0 460.9,1001.1 464.4,996.5 467.8,992.0 471.3,987.7 474.8,983.6 478.2,979.7 481.7,976.0 485.2,972.4 488.6,969.1 492.1,965.9 495.6,962.8 499.0,960.0 502.5,957.2 506.0,954.6 509.4,952.2 512.9,949.9 516.4,947.6 519.8,945.5 523.3,943.6 526.8,941.7 530.2,939.9 533.7,938.2 537.2,936.6 540.6,935.1 544.1,933.7 547.6,932.3 551.1,931.0 554.5,929.8 558.0,928.7 561.5,927.6 564.9,926.6 568.4,925.6 571.9,924.7 575.3,923.9 578.8,923.0 582.3,922.3 585.7,921.6 589.2,920.9 592.7,920.2 596.1,919.6 599.6,919.1 603.1,918.5 606.5,918.0 610.0,917.5 613.5,917.1 616.9,916.7 620.4,916.3 623.9,915.9 627.3,915.5 630.8,915.2 634.3,914.9 637.7,914.6 641.2,914.3 644.7,914.0 648.1,913.8 651.6,913.5 655.1,913.3 658.5,913.1 662.0,912.9 665.5,912.7 669.0,912.5 672.4,912.4 675.9,912.2 679.4,912.1 682.8,911.9 686.3,911.8 689.8,911.7 693.2,911.5 696.7,911.4 700.2,911.3 700.2,913.3 696.7,913.5 693.2,913.7 689.8,914.0 686.3,914.2 682.8,914.5 679.4,914.8 675.9,915.1 672.4,915.4 669.0,915.8 665.5,916.2 662.0,916.6 658.5,917.0 655.1,917.4 651.6,917.9 648.1,918.4 644.7,918.9 641.2,919.5 637.7,920.1 634.3,920.7 630.8,921.4 627.3,922.1 623.9,922.9 620.4,923.7 616.9,924.5 613.5,925.4 610.0,926.4 606.5,927.4 603.1,928.5 599.6,929.6 596.1,930.8 592.7,932.0 589.2,933.4 585.7,934.8 582.3,936.3 578.8,937.8 575.3,939.5 571.9,941.2 568.4,943.1 564.9,945.0 561.5,947.0 558.0,949.1 554.5,951.4 551.1,953.7 547.6,956.2 544.1,958.7 540.6,961.4 537.2,964.2 533.7,967.1 530.2,970.1 526.8,973.2 523.3,976.4 519.8,979.7 516.4,983.2 512.9,986.7 509.4,990.3 506.0,993.9 502.5,997.7 499.0,1001.4 495.6,1005.2 492.1,1009.1 488.6,1012.9 485.2,1016.8 481.7,1020.6 478.2,1024.4 474.8,1028.2 471.3,1031.9 467.8,1035.5 464.4,1039.1 460.9,1042.6 457.4,1046.1 454.0,1049.5 450.5,1052.9 447.0,1056.3 443.6,1059.6 440.1,1063.0 436.6,1066.4 433.2,1069.8 429.7,1073.2 426.2,1076.7 422.8,1080.1 419.3,1083.6 415.8,1087.1 412.3,1090.5 408.9,1094.0 405.4,1097.4 401.9,1100.7 398.5,1104.0 395.0,1107.3 391.5,1110.5 388.1,1113.6 384.6,1116.7 381.1,1119.6 377.7,1122.5 374.2,1125.4 370.7,1128.1 367.3,1130.8 363.8,1133.4 360.3,1135.9 356.9,1138.3 353.4,1140.7 349.9,1143.0 346.5,1145.2 343.0,1147.3 339.5,1149.4 336.1,1151.3 332.6,1153.2 329.1,1155.1 325.7,1156.8 322.2,1158.5 318.7,1160.1 315.3,1161.7 311.8,1163.2 308.3,1164.6 304.9,1166.0 301.4,1167.3 297.9,1168.6 294.4,1169.8 291.0,1170.9 287.5,1172.1 284.0,1173.1 280.6,1174.1 277.1,1175.1 273.6,1176.0 270.2,1176.8 266.7,1177.7 263.2,1178.5 259.8,1179.2 256.3,1179.9 252.8,1180.6 249.4,1181.2 245.9,1181.8 242.4,1182.4 239.0,1183.0 235.5,1183.5 232.0,1184.0 228.6,1184.5 225.1,1184.9 221.6,1185.3 218.2,1185.7 214.7,1186.1 211.2,1186.5 207.8,1186.8 204.3,1187.1 200.8,1187.5 197.4,1187.7 193.9,1188.0 190.4,1188.3 187.0,1188.5 183.5,1188.8 180.0,1189.0 176.5,1189.2 173.1,1189.4 169.6,1189.6 166.1,1189.7 162.7,1189.9 159.2,1190.1 155.7,1190.2 152.3,1190.3 148.8,1190.5 145.3,1190.6" fill="#555555" fill-opacity="0.16"/>
<polyline points="145.3,1190.3 148.8,1190.2 152.3,1190.0 155.7,1189.9 159.2,1189.7 162.7,1189.5 166.1,1189.3 169.6,1189.1 173.1,1188.9 176.5,1188.7 180.0,1188.5 183.5,1188.2 187.0,1188.0 190.4,1187.7 193.9,1187.4 197.4,1187.1 200.8,1186.8 204.3,1186.4 207.8,1186.0 211.2,1185.7 214.7,1185.3 218.2,1184.8 221.6,1184.4 225.1,1183.9 228.6,1183.4 232.0,1182.9 235.5,1182.3 239.0,1181.7 242.4,1181.1 245.9,1180.5 249.4,1179.8 252.8,1179.1 256.3,1178.3 259.8,1177.5 263.2,1176.7 266.7,1175.8 270.2,1174.9 273.6,1173.9 277.1,1172.9 280.6,1171.8 284.0,1170.7 287.5,1169.6 291.0,1168.3 294.4,1167.1 297.9,1165.7 301.4,1164.4 304.9,1162.9 308.3,1161.4 311.8,1159.8 315.3,1158.2 318.7,1156.5 322.2,1154.7 325.7,1152.9 329.1,1150.9 332.6,1148.9 336.1,1146.9 339.5,1144.7 343.0,1142.5 346.5,1140.2 349.9,1137.8 353.4,1135.4 356.9,1132.8 360.3,1130.2 363.8,1127.5 367.3,1124.7 370.7,1121.8 374.2,1118.8 377.7,1115.8 381.1,1112.6 384.6,1109.4 388.1,1106.1 391.5,1102.7 395.0,1099.2 398.5,1095.6 401.9,1091.9 405.4,1088.2 408.9,1084.4 412.3,1080.5 415.8,1076.6 419.3,1072.5 422.8,1068.4 426.2,1064.3 429.7,1060.1 433.2,1055.9 436.6,1051.6 440.1,1047.3 443.6,1043.0 447.0,1038.7 450.5,1034.4 454.0,1030.0 457.4,1025.7 460.9,1021.5 464.4,1017.2 467.8,1013.0 471.3,1008.9 474.8,1004.8 478.2,1000.8 481.7,996.9 485.2,993.0 488.6,989.3 492.1,985.6 495.6,982.1 499.0,978.6 502.5,975.3 506.0,972.1 509.4,969.0 512.9,966.0 516.4,963.1 519.8,960.4 523.3,957.7 526.8,955.2 530.2,952.8 533.7,950.5 537.2,948.3 540.6,946.2 544.1,944.2 547.6,942.3 551.1,940.5 554.5,938.8 558.0,937.2 561.5,935.7 564.9,934.2 568.4,932.8 571.9,931.5 575.3,930.3 578.8,929.1 582.3,928.0 585.7,927.0 589.2,926.0 592.7,925.1 596.1,924.2 599.6,923.4 603.1,922.6 606.5,921.8 610.0,921.1 613.5,920.5 616.9,919.9 620.4,919.3 623.9,918.7 627.3,918.2 630.8,917.7 634.3,917.3 637.7,916.8 641.2,916.4 644.7,916.0 648.1,915.7 651.6,915.3 655.1,915.0 658.5,914.7 662.0,914.4 665.5,914.1 669.0,913.9 672.4,913.6 675.9,913.4 679.4,913.2 682.8,913.0 686.3,912.8 689.8,912.6 693.2,912.4 696.7,912.3 700.2,912.1" fill="none" stroke="#555555" stroke-width="6.5" stroke-linejoin="round"/>
<polyline points="233.6,1184.6 292.9,1161.1 326.4,1160.7 367.7,1139.4 435.4,1042.7" fill="none" stroke="#340043" stroke-width="4.45" stroke-linejoin="round"/>
<polyline points="233.6,1185.2 292.9,1179.4 326.4,1147.9 367.7,1140.4 435.4,1043.3" fill="none" stroke="#69c940" stroke-width="4.45" stroke-linejoin="round"/>
<line x1="233.6" x2="233.6" y1="1176.6" y2="1192.6" stroke="#340043" stroke-width="3.6"/>
<line x1="292.9" x2="292.9" y1="1145.6" y2="1173.1" stroke="#340043" stroke-width="3.6"/>
<line x1="326.4" x2="326.4" y1="1148.7" y2="1176.2" stroke="#340043" stroke-width="3.6"/>
<line x1="367.7" x2="367.7" y1="1122.4" y2="1156.4" stroke="#340043" stroke-width="3.6"/>
<line x1="435.4" x2="435.4" y1="1018.7" y2="1066.7" stroke="#340043" stroke-width="3.6"/>
<line x1="233.6" x2="233.6" y1="1177.2" y2="1193.2" stroke="#69c940" stroke-width="3.6"/>
<line x1="292.9" x2="292.9" y1="1169.4" y2="1189.4" stroke="#69c940" stroke-width="3.6"/>
<line x1="326.4" x2="326.4" y1="1130.9" y2="1164.9" stroke="#69c940" stroke-width="3.6"/>
<line x1="367.7" x2="367.7" y1="1121.8" y2="1159.0" stroke="#69c940" stroke-width="3.6"/>
<line x1="435.4" x2="435.4" y1="1017.7" y2="1068.9" stroke="#69c940" stroke-width="3.6"/>
<circle cx="233.6" cy="1184.6" r="14.1" fill="#340043"/>
<circle cx="292.9" cy="1161.1" r="14.1" fill="#340043"/>
<circle cx="326.4" cy="1160.7" r="14.1" fill="#340043"/>
<circle cx="367.7" cy="1139.4" r="14.1" fill="#340043"/>
<circle cx="435.4" cy="1042.7" r="14.1" fill="#340043"/>
<circle cx="233.6" cy="1185.2" r="14.1" fill="#69c940"/>
<circle cx="292.9" cy="1179.4" r="14.1" fill="#69c940"/>
<circle cx="326.4" cy="1147.9" r="14.1" fill="#69c940"/>
<circle cx="367.7" cy="1140.4" r="14.1" fill="#69c940"/>
<circle cx="435.4" cy="1043.3" r="14.1" fill="#69c940"/>
<text transform="translate(130.47,948.50) scale(0.8000,1.0000)" font-family="DejaVu Serif, Liberation Serif, serif" font-size="39.3" fill="#000">γ</text>
<text transform="translate(158.79,945.40) scale(0.9230,0.5500)" font-family="Liberation Sans, Arial, Helvetica, sans-serif" font-size="41.5" font-weight="bold" fill="#000">=</text>
<text transform="translate(190.34,952.40) scale(0.9660,1.0800)" font-family="Liberation Sans, Arial, Helvetica, sans-serif" font-size="41.5" fill="#000">−</text>
<text transform="translate(219.20,947.60) scale(1.0000,1.0407)" font-family="Liberation Sans, Arial, Helvetica, sans-serif" font-size="41.5" fill="#000">0.1</text>
<rect x="117.60" y="898.00" width="610.30" height="308.67" fill="none" stroke="#252525" stroke-width="4.45"/>
</g>
<g clip-path="url(#cs7)"><rect x="117.60" y="827.32" width="610.30" height="70.68" fill="#d1d1d1" stroke="#252525" stroke-width="4.45"/></g>
<text transform="translate(422.75,876.22) scale(1.0000,1.0200)" font-family="Liberation Sans, Arial, Helvetica, sans-serif" font-size="36.67" font-weight="bold" text-anchor="middle" fill="#111111">q7</text>
<line x1="106.14" x2="117.60" y1="1192.70" y2="1192.70" stroke="#252525" stroke-width="4.45"/>
<text transform="translate(96.15,1206.40) scale(1.0000,1.0407)" font-family="Liberation Sans, Arial, Helvetica, sans-serif" font-size="36.67" text-anchor="end" fill="#3c3c3c">0</text>
<line x1="106.14" x2="117.60" y1="1098.33" y2="1098.33" stroke="#252525" stroke-width="4.45"/>
<text transform="translate(96.15,1112.03) scale(1.0000,1.0407)" font-family="Liberation Sans, Arial, Helvetica, sans-serif" font-size="36.67" text-anchor="end" fill="#3c3c3c">1</text>
<line x1="106.14" x2="117.60" y1="1003.97" y2="1003.97" stroke="#252525" stroke-width="4.45"/>
<text transform="translate(96.15,1017.67) scale(1.0000,1.0407)" font-family="Liberation Sans, Arial, Helvetica, sans-serif" font-size="36.67" text-anchor="end" fill="#3c3c3c">2</text>
<line x1="106.14" x2="117.60" y1="909.60" y2="909.60" stroke="#252525" stroke-width="4.45"/>
<text transform="translate(96.15,923.30) scale(1.0000,1.0407)" font-family="Liberation Sans, Arial, Helvetica, sans-serif" font-size="36.67" text-anchor="end" fill="#3c3c3c">3</text>
<line x1="145.34" x2="145.34" y1="1206.67" y2="1218.13" stroke="#252525" stroke-width="4.45"/>
<text transform="translate(144.44,1254.40) scale(1.0000,1.0407)" font-family="Liberation Sans, Arial, Helvetica, sans-serif" font-size="36.67" text-anchor="middle" fill="#3c3c3c">-4</text>
<line x1="284.05" x2="284.05" y1="1206.67" y2="1218.13" stroke="#252525" stroke-width="4.45"/>
<text transform="translate(283.15,1254.40) scale(1.0000,1.0407)" font-family="Liberation Sans, Arial, Helvetica, sans-serif" font-size="36.67" text-anchor="middle" fill="#3c3c3c">-2</text>
<line x1="422.75" x2="422.75" y1="1206.67" y2="1218.13" stroke="#252525" stroke-width="4.45"/>
<text transform="translate(421.85,1254.40) scale(1.0000,1.0407)" font-family="Liberation Sans, Arial, Helvetica, sans-serif" font-size="36.67" text-anchor="middle" fill="#3c3c3c">0</text>
<line x1="561.45" x2="561.45" y1="1206.67" y2="1218.13" stroke="#252525" stroke-width="4.45"/>
<text transform="translate(560.55,1254.40) scale(1.0000,1.0407)" font-family="Liberation Sans, Arial, Helvetica, sans-serif" font-size="36.67" text-anchor="middle" fill="#3c3c3c">2</text>
<line x1="700.16" x2="700.16" y1="1206.67" y2="1218.13" stroke="#252525" stroke-width="4.45"/>
<text transform="translate(699.26,1254.40) scale(1.0000,1.0407)" font-family="Liberation Sans, Arial, Helvetica, sans-serif" font-size="36.67" text-anchor="middle" fill="#3c3c3c">4</text>
</g>
<g id="panel8">
<g clip-path="url(#cp8)">
<line x1="889.24" x2="889.24" y1="898.00" y2="1206.67" stroke="#e7e7e7" stroke-width="2.23"/>
<line x1="1027.95" x2="1027.95" y1="898.00" y2="1206.67" stroke="#e7e7e7" stroke-width="2.23"/>
<line x1="1166.65" x2="1166.65" y1="898.00" y2="1206.67" stroke="#e7e7e7" stroke-width="2.23"/>
<line x1="1305.36" x2="1305.36" y1="898.00" y2="1206.67" stroke="#e7e7e7" stroke-width="2.23"/>
<line x1="792.15" x2="1402.45" y1="1145.65" y2="1145.65" stroke="#e7e7e7" stroke-width="2.23"/>
<line x1="792.15" x2="1402.45" y1="1051.55" y2="1051.55" stroke="#e7e7e7" stroke-width="2.23"/>
<line x1="792.15" x2="1402.45" y1="957.45" y2="957.45" stroke="#e7e7e7" stroke-width="2.23"/>
<line x1="819.89" x2="819.89" y1="898.00" y2="1206.67" stroke="#e7e7e7" stroke-width="4.45"/>
<line x1="958.60" x2="958.60" y1="898.00" y2="1206.67" stroke="#e7e7e7" stroke-width="4.45"/>
<line x1="1097.30" x2="1097.30" y1="898.00" y2="1206.67" stroke="#e7e7e7" stroke-width="4.45"/>
<line x1="1236.00" x2="1236.00" y1="898.00" y2="1206.67" stroke="#e7e7e7" stroke-width="4.45"/>
<line x1="1374.71" x2="1374.71" y1="898.00" y2="1206.67" stroke="#e7e7e7" stroke-width="4.45"/>
<line x1="792.15" x2="1402.45" y1="1192.70" y2="1192.70" stroke="#e7e7e7" stroke-width="4.45"/>
<line x1="792.15" x2="1402.45" y1="1098.60" y2="1098.60" stroke="#e7e7e7" stroke-width="4.45"/>
<line x1="792.15" x2="1402.45" y1="1004.50" y2="1004.50" stroke="#e7e7e7" stroke-width="4.45"/>
<line x1="792.15" x2="1402.45" y1="910.40" y2="910.40" stroke="#e7e7e7" stroke-width="4.45"/>
<polygon points="819.9,1191.8 823.4,1191.7 826.8,1191.7 830.3,1191.6 833.8,1191.6 837.2,1191.5 840.7,1191.5 844.2,1191.4 847.6,1191.4 851.1,1191.3 854.6,1191.2 858.0,1191.2 861.5,1191.1 865.0,1191.0 868.4,1190.9 871.9,1190.8 875.4,1190.8 878.8,1190.7 882.3,1190.6 885.8,1190.5 889.2,1190.3 892.7,1190.2 896.2,1190.1 899.6,1190.0 903.1,1189.9 906.6,1189.7 910.0,1189.6 913.5,1189.4 917.0,1189.2 920.5,1189.1 923.9,1188.9 927.4,1188.7 930.9,1188.5 934.3,1188.3 937.8,1188.1 941.3,1187.8 944.7,1187.6 948.2,1187.3 951.7,1187.0 955.1,1186.7 958.6,1186.4 962.1,1186.1 965.5,1185.8 969.0,1185.4 972.5,1185.0 975.9,1184.6 979.4,1184.1 982.9,1183.7 986.3,1183.2 989.8,1182.6 993.3,1182.1 996.7,1181.5 1000.2,1180.8 1003.7,1180.1 1007.1,1179.4 1010.6,1178.6 1014.1,1177.8 1017.5,1176.8 1021.0,1175.9 1024.5,1174.8 1027.9,1173.7 1031.4,1172.5 1034.9,1171.2 1038.4,1169.9 1041.8,1168.4 1045.3,1166.8 1048.8,1165.0 1052.2,1163.2 1055.7,1161.2 1059.2,1159.0 1062.6,1156.7 1066.1,1154.1 1069.6,1151.4 1073.0,1148.5 1076.5,1145.4 1080.0,1142.0 1083.4,1138.3 1086.9,1134.4 1090.4,1130.2 1093.8,1125.6 1097.3,1120.8 1100.8,1115.6 1104.2,1110.1 1107.7,1104.3 1111.2,1098.1 1114.6,1091.6 1118.1,1084.8 1121.6,1077.8 1125.0,1070.6 1128.5,1063.3 1132.0,1055.8 1135.4,1048.4 1138.9,1041.0 1142.4,1033.8 1145.8,1026.7 1149.3,1019.8 1152.8,1013.1 1156.2,1006.7 1159.7,1000.6 1163.2,994.7 1166.7,989.1 1170.1,983.9 1173.6,978.9 1177.1,974.2 1180.5,969.8 1184.0,965.7 1187.5,961.9 1190.9,958.3 1194.4,954.9 1197.9,951.8 1201.3,948.9 1204.8,946.2 1208.3,943.7 1211.7,941.4 1215.2,939.2 1218.7,937.2 1222.1,935.4 1225.6,933.7 1229.1,932.1 1232.5,930.6 1236.0,929.3 1239.5,928.0 1242.9,926.9 1246.4,925.8 1249.9,924.8 1253.3,923.9 1256.8,923.0 1260.3,922.3 1263.7,921.5 1267.2,920.8 1270.7,920.2 1274.1,919.6 1277.6,919.1 1281.1,918.6 1284.6,918.1 1288.0,917.6 1291.5,917.2 1295.0,916.8 1298.4,916.5 1301.9,916.1 1305.4,915.8 1308.8,915.5 1312.3,915.2 1315.8,915.0 1319.2,914.7 1322.7,914.5 1326.2,914.3 1329.6,914.1 1333.1,913.9 1336.6,913.7 1340.0,913.5 1343.5,913.4 1347.0,913.2 1350.4,913.1 1353.9,912.9 1357.4,912.8 1360.8,912.7 1364.3,912.6 1367.8,912.5 1371.2,912.4 1374.7,912.3 1374.7,913.5 1371.2,913.6 1367.8,913.8 1364.3,914.0 1360.8,914.2 1357.4,914.4 1353.9,914.6 1350.4,914.9 1347.0,915.1 1343.5,915.4 1340.0,915.7 1336.6,916.0 1333.1,916.3 1329.6,916.7 1326.2,917.1 1322.7,917.5 1319.2,917.9 1315.8,918.4 1312.3,918.9 1308.8,919.4 1305.4,920.0 1301.9,920.6 1298.4,921.2 1295.0,921.9 1291.5,922.7 1288.0,923.5 1284.6,924.4 1281.1,925.4 1277.6,926.4 1274.1,927.6 1270.7,928.8 1267.2,930.1 1263.7,931.5 1260.3,933.0 1256.8,934.7 1253.3,936.4 1249.9,938.4 1246.4,940.4 1242.9,942.7 1239.5,945.1 1236.0,947.7 1232.5,950.5 1229.1,953.5 1225.6,956.7 1222.1,960.1 1218.7,963.8 1215.2,967.7 1211.7,971.9 1208.3,976.3 1204.8,980.9 1201.3,985.8 1197.9,991.0 1194.4,996.3 1190.9,1001.9 1187.5,1007.7 1184.0,1013.6 1180.5,1019.7 1177.1,1025.9 1173.6,1032.2 1170.1,1038.5 1166.7,1044.9 1163.2,1051.2 1159.7,1057.5 1156.2,1063.7 1152.8,1069.7 1149.3,1075.6 1145.8,1081.4 1142.4,1086.9 1138.9,1092.3 1135.4,1097.4 1132.0,1102.4 1128.5,1107.1 1125.0,1111.7 1121.6,1116.0 1118.1,1120.2 1114.6,1124.3 1111.2,1128.1 1107.7,1131.8 1104.2,1135.4 1100.8,1138.8 1097.3,1142.0 1093.8,1145.1 1090.4,1148.0 1086.9,1150.8 1083.4,1153.4 1080.0,1155.8 1076.5,1158.1 1073.0,1160.3 1069.6,1162.3 1066.1,1164.1 1062.6,1165.9 1059.2,1167.5 1055.7,1169.1 1052.2,1170.5 1048.8,1171.8 1045.3,1173.1 1041.8,1174.2 1038.4,1175.3 1034.9,1176.3 1031.4,1177.2 1027.9,1178.1 1024.5,1178.9 1021.0,1179.7 1017.5,1180.4 1014.1,1181.1 1010.6,1181.7 1007.1,1182.3 1003.7,1182.8 1000.2,1183.4 996.7,1183.9 993.3,1184.3 989.8,1184.7 986.3,1185.2 982.9,1185.5 979.4,1185.9 975.9,1186.2 972.5,1186.6 969.0,1186.9 965.5,1187.2 962.1,1187.4 958.6,1187.7 955.1,1187.9 951.7,1188.2 948.2,1188.4 944.7,1188.6 941.3,1188.8 937.8,1189.0 934.3,1189.1 930.9,1189.3 927.4,1189.5 923.9,1189.6 920.5,1189.8 917.0,1189.9 913.5,1190.0 910.0,1190.2 906.6,1190.3 903.1,1190.4 899.6,1190.5 896.2,1190.6 892.7,1190.7 889.2,1190.8 885.8,1190.9 882.3,1191.0 878.8,1191.0 875.4,1191.1 871.9,1191.2 868.4,1191.3 865.0,1191.3 861.5,1191.4 858.0,1191.4 854.6,1191.5 851.1,1191.6 847.6,1191.6 844.2,1191.7 840.7,1191.7 837.2,1191.8 833.8,1191.8 830.3,1191.8 826.8,1191.9 823.4,1191.9 819.9,1191.9" fill="#555555" fill-opacity="0.16"/>
<polyline points="819.9,1191.9 823.4,1191.8 826.8,1191.8 830.3,1191.7 833.8,1191.7 837.2,1191.6 840.7,1191.6 844.2,1191.5 847.6,1191.5 851.1,1191.4 854.6,1191.4 858.0,1191.3 861.5,1191.2 865.0,1191.2 868.4,1191.1 871.9,1191.0 875.4,1190.9 878.8,1190.9 882.3,1190.8 885.8,1190.7 889.2,1190.6 892.7,1190.5 896.2,1190.4 899.6,1190.3 903.1,1190.1 906.6,1190.0 910.0,1189.9 913.5,1189.7 917.0,1189.6 920.5,1189.4 923.9,1189.3 927.4,1189.1 930.9,1188.9 934.3,1188.7 937.8,1188.5 941.3,1188.3 944.7,1188.1 948.2,1187.9 951.7,1187.6 955.1,1187.4 958.6,1187.1 962.1,1186.8 965.5,1186.5 969.0,1186.2 972.5,1185.8 975.9,1185.5 979.4,1185.1 982.9,1184.7 986.3,1184.2 989.8,1183.8 993.3,1183.3 996.7,1182.7 1000.2,1182.2 1003.7,1181.6 1007.1,1180.9 1010.6,1180.3 1014.1,1179.5 1017.5,1178.8 1021.0,1177.9 1024.5,1177.0 1027.9,1176.1 1031.4,1175.1 1034.9,1174.0 1038.4,1172.8 1041.8,1171.5 1045.3,1170.2 1048.8,1168.7 1052.2,1167.1 1055.7,1165.4 1059.2,1163.6 1062.6,1161.7 1066.1,1159.6 1069.6,1157.3 1073.0,1154.9 1076.5,1152.3 1080.0,1149.5 1083.4,1146.5 1086.9,1143.2 1090.4,1139.8 1093.8,1136.2 1097.3,1132.3 1100.8,1128.1 1104.2,1123.7 1107.7,1119.1 1111.2,1114.2 1114.6,1109.1 1118.1,1103.7 1121.6,1098.1 1125.0,1092.3 1128.5,1086.3 1132.0,1080.1 1135.4,1073.8 1138.9,1067.4 1142.4,1060.8 1145.8,1054.2 1149.3,1047.6 1152.8,1041.0 1156.2,1034.4 1159.7,1028.0 1163.2,1021.6 1166.7,1015.3 1170.1,1009.3 1173.6,1003.4 1177.1,997.7 1180.5,992.2 1184.0,987.0 1187.5,982.0 1190.9,977.3 1194.4,972.8 1197.9,968.6 1201.3,964.6 1204.8,960.9 1208.3,957.4 1211.7,954.1 1215.2,951.1 1218.7,948.2 1222.1,945.6 1225.6,943.2 1229.1,940.9 1232.5,938.8 1236.0,936.8 1239.5,935.0 1242.9,933.3 1246.4,931.8 1249.9,930.3 1253.3,929.0 1256.8,927.8 1260.3,926.7 1263.7,925.6 1267.2,924.6 1270.7,923.7 1274.1,922.9 1277.6,922.1 1281.1,921.4 1284.6,920.7 1288.0,920.1 1291.5,919.5 1295.0,919.0 1298.4,918.5 1301.9,918.0 1305.4,917.5 1308.8,917.1 1312.3,916.8 1315.8,916.4 1319.2,916.1 1322.7,915.8 1326.2,915.5 1329.6,915.2 1333.1,914.9 1336.6,914.7 1340.0,914.5 1343.5,914.2 1347.0,914.0 1350.4,913.8 1353.9,913.7 1357.4,913.5 1360.8,913.3 1364.3,913.2 1367.8,913.1 1371.2,912.9 1374.7,912.8" fill="none" stroke="#555555" stroke-width="6.5" stroke-linejoin="round"/>
<polyline points="908.1,1190.5 967.5,1189.5 1001.0,1183.1 1042.2,1168.8 1109.9,1113.7" fill="none" stroke="#340043" stroke-width="4.45" stroke-linejoin="round"/>
<polyline points="908.1,1190.5 967.5,1174.5 1001.0,1185.2 1042.2,1163.2 1109.9,1108.3" fill="none" stroke="#69c940" stroke-width="4.45" stroke-linejoin="round"/>
<line x1="908.1" x2="908.1" y1="1185.5" y2="1195.5" stroke="#340043" stroke-width="3.6"/>
<line x1="967.5" x2="967.5" y1="1183.5" y2="1195.5" stroke="#340043" stroke-width="3.6"/>
<line x1="1001.0" x2="1001.0" y1="1173.1" y2="1193.1" stroke="#340043" stroke-width="3.6"/>
<line x1="1042.2" x2="1042.2" y1="1155.8" y2="1184.3" stroke="#340043" stroke-width="3.6"/>
<line x1="1109.9" x2="1109.9" y1="1091.7" y2="1135.7" stroke="#340043" stroke-width="3.6"/>
<line x1="908.1" x2="908.1" y1="1185.5" y2="1195.5" stroke="#69c940" stroke-width="3.6"/>
<line x1="967.5" x2="967.5" y1="1155.3" y2="1193.7" stroke="#69c940" stroke-width="3.6"/>
<line x1="1001.0" x2="1001.0" y1="1176.2" y2="1194.2" stroke="#69c940" stroke-width="3.6"/>
<line x1="1042.2" x2="1042.2" y1="1146.2" y2="1176.2" stroke="#69c940" stroke-width="3.6"/>
<line x1="1109.9" x2="1109.9" y1="1082.3" y2="1134.3" stroke="#69c940" stroke-width="3.6"/>
<circle cx="908.1" cy="1190.5" r="14.1" fill="#340043"/>
<circle cx="967.5" cy="1189.5" r="14.1" fill="#340043"/>
<circle cx="1001.0" cy="1183.1" r="14.1" fill="#340043"/>
<circle cx="1042.2" cy="1168.8" r="14.1" fill="#340043"/>
<circle cx="1109.9" cy="1113.7" r="14.1" fill="#340043"/>
<circle cx="908.1" cy="1190.5" r="14.1" fill="#69c940"/>
<circle cx="967.5" cy="1174.5" r="14.1" fill="#69c940"/>
<circle cx="1001.0" cy="1185.2" r="14.1" fill="#69c940"/>
<circle cx="1042.2" cy="1163.2" r="14.1" fill="#69c940"/>
<circle cx="1109.9" cy="1108.3" r="14.1" fill="#69c940"/>
<text transform="translate(804.22,948.50) scale(0.8000,1.0000)" font-family="DejaVu Serif, Liberation Serif, serif" font-size="39.3" fill="#000">γ</text>
<text transform="translate(832.54,945.40) scale(0.9230,0.5500)" font-family="Liberation Sans, Arial, Helvetica, sans-serif" font-size="41.5" font-weight="bold" fill="#000">=</text>
<text transform="translate(864.15,947.60) scale(1.0000,1.0407)" font-family="Liberation Sans, Arial, Helvetica, sans-serif" font-size="41.5" fill="#000">0.16</text>
<rect x="792.15" y="898.00" width="610.30" height="308.67" fill="none" stroke="#252525" stroke-width="4.45"/>
</g>
<g clip-path="url(#cs8)"><rect x="792.15" y="827.32" width="610.30" height="70.68" fill="#d1d1d1" stroke="#252525" stroke-width="4.45"/></g>
<text transform="translate(1097.30,876.22) scale(1.0000,1.0200)" font-family="Liberation Sans, Arial, Helvetica, sans-serif" font-size="36.67" font-weight="bold" text-anchor="middle" fill="#111111">q8</text>
<line x1="780.69" x2="792.15" y1="1192.70" y2="1192.70" stroke="#252525" stroke-width="4.45"/>
<text transform="translate(770.70,1206.40) scale(1.0000,1.0407)" font-family="Liberation Sans, Arial, Helvetica, sans-serif" font-size="36.67" text-anchor="end" fill="#3c3c3c">0</text>
<line x1="780.69" x2="792.15" y1="1098.60" y2="1098.60" stroke="#252525" stroke-width="4.45"/>
<text transform="translate(770.70,1112.30) scale(1.0000,1.0407)" font-family="Liberation Sans, Arial, Helvetica, sans-serif" font-size="36.67" text-anchor="end" fill="#3c3c3c">1</text>
<line x1="780.69" x2="792.15" y1="1004.50" y2="1004.50" stroke="#252525" stroke-width="4.45"/>
<text transform="translate(770.70,1018.20) scale(1.0000,1.0407)" font-family="Liberation Sans, Arial, Helvetica, sans-serif" font-size="36.67" text-anchor="end" fill="#3c3c3c">2</text>
<line x1="780.69" x2="792.15" y1="910.40" y2="910.40" stroke="#252525" stroke-width="4.45"/>
<text transform="translate(770.70,924.10) scale(1.0000,1.0407)" font-family="Liberation Sans, Arial, Helvetica, sans-serif" font-size="36.67" text-anchor="end" fill="#3c3c3c">3</text>
<line x1="819.89" x2="819.89" y1="1206.67" y2="1218.13" stroke="#252525" stroke-width="4.45"/>
<text transform="translate(818.99,1254.40) scale(1.0000,1.0407)" font-family="Liberation Sans, Arial, Helvetica, sans-serif" font-size="36.67" text-anchor="middle" fill="#3c3c3c">-4</text>
<line x1="958.60" x2="958.60" y1="1206.67" y2="1218.13" stroke="#252525" stroke-width="4.45"/>
<text transform="translate(957.70,1254.40) scale(1.0000,1.0407)" font-family="Liberation Sans, Arial, Helvetica, sans-serif" font-size="36.67" text-anchor="middle" fill="#3c3c3c">-2</text>
<line x1="1097.30" x2="1097.30" y1="1206.67" y2="1218.13" stroke="#252525" stroke-width="4.45"/>
<text transform="translate(1096.40,1254.40) scale(1.0000,1.0407)" font-family="Liberation Sans, Arial, Helvetica, sans-serif" font-size="36.67" text-anchor="middle" fill="#3c3c3c">0</text>
<line x1="1236.00" x2="1236.00" y1="1206.67" y2="1218.13" stroke="#252525" stroke-width="4.45"/>
<text transform="translate(1235.10,1254.40) scale(1.0000,1.0407)" font-family="Liberation Sans, Arial, Helvetica, sans-serif" font-size="36.67" text-anchor="middle" fill="#3c3c3c">2</text>
<line x1="1374.71" x2="1374.71" y1="1206.67" y2="1218.13" stroke="#252525" stroke-width="4.45"/>
<text transform="translate(1373.81,1254.40) scale(1.0000,1.0407)" font-family="Liberation Sans, Arial, Helvetica, sans-serif" font-size="36.67" text-anchor="middle" fill="#3c3c3c">4</text>
</g>
<g id="panel9">
<g clip-path="url(#cp9)">
<line x1="1563.59" x2="1563.59" y1="898.00" y2="1206.67" stroke="#e7e7e7" stroke-width="2.23"/>
<line x1="1702.30" x2="1702.30" y1="898.00" y2="1206.67" stroke="#e7e7e7" stroke-width="2.23"/>
<line x1="1841.00" x2="1841.00" y1="898.00" y2="1206.67" stroke="#e7e7e7" stroke-width="2.23"/>
<line x1="1979.71" x2="1979.71" y1="898.00" y2="1206.67" stroke="#e7e7e7" stroke-width="2.23"/>
<line x1="1466.50" x2="2076.80" y1="1145.48" y2="1145.48" stroke="#e7e7e7" stroke-width="2.23"/>
<line x1="1466.50" x2="2076.80" y1="1051.05" y2="1051.05" stroke="#e7e7e7" stroke-width="2.23"/>
<line x1="1466.50" x2="2076.80" y1="956.62" y2="956.62" stroke="#e7e7e7" stroke-width="2.23"/>
<line x1="1494.24" x2="1494.24" y1="898.00" y2="1206.67" stroke="#e7e7e7" stroke-width="4.45"/>
<line x1="1632.95" x2="1632.95" y1="898.00" y2="1206.67" stroke="#e7e7e7" stroke-width="4.45"/>
<line x1="1771.65" x2="1771.65" y1="898.00" y2="1206.67" stroke="#e7e7e7" stroke-width="4.45"/>
<line x1="1910.35" x2="1910.35" y1="898.00" y2="1206.67" stroke="#e7e7e7" stroke-width="4.45"/>
<line x1="2049.06" x2="2049.06" y1="898.00" y2="1206.67" stroke="#e7e7e7" stroke-width="4.45"/>
<line x1="1466.50" x2="2076.80" y1="1192.70" y2="1192.70" stroke="#e7e7e7" stroke-width="4.45"/>
<line x1="1466.50" x2="2076.80" y1="1098.27" y2="1098.27" stroke="#e7e7e7" stroke-width="4.45"/>
<line x1="1466.50" x2="2076.80" y1="1003.83" y2="1003.83" stroke="#e7e7e7" stroke-width="4.45"/>
<line x1="1466.50" x2="2076.80" y1="909.40" y2="909.40" stroke="#e7e7e7" stroke-width="4.45"/>
<polygon points="1494.2,1192.1 1497.7,1192.1 1501.2,1192.1 1504.6,1192.1 1508.1,1192.1 1511.6,1192.1 1515.0,1192.0 1518.5,1192.0 1522.0,1192.0 1525.4,1192.0 1528.9,1191.9 1532.4,1191.9 1535.9,1191.9 1539.3,1191.8 1542.8,1191.8 1546.3,1191.8 1549.7,1191.7 1553.2,1191.7 1556.7,1191.6 1560.1,1191.6 1563.6,1191.6 1567.1,1191.5 1570.5,1191.5 1574.0,1191.4 1577.5,1191.4 1580.9,1191.3 1584.4,1191.3 1587.9,1191.2 1591.3,1191.1 1594.8,1191.1 1598.3,1191.0 1601.7,1190.9 1605.2,1190.9 1608.7,1190.8 1612.1,1190.7 1615.6,1190.6 1619.1,1190.5 1622.5,1190.4 1626.0,1190.3 1629.5,1190.2 1632.9,1190.1 1636.4,1189.9 1639.9,1189.8 1643.3,1189.6 1646.8,1189.4 1650.3,1189.2 1653.8,1189.0 1657.2,1188.8 1660.7,1188.5 1664.2,1188.3 1667.6,1188.0 1671.1,1187.7 1674.6,1187.4 1678.0,1187.0 1681.5,1186.7 1685.0,1186.3 1688.4,1185.9 1691.9,1185.5 1695.4,1185.1 1698.8,1184.7 1702.3,1184.2 1705.8,1183.7 1709.2,1183.1 1712.7,1182.5 1716.2,1181.8 1719.6,1181.0 1723.1,1180.2 1726.6,1179.3 1730.0,1178.3 1733.5,1177.3 1737.0,1176.2 1740.4,1175.0 1743.9,1173.8 1747.4,1172.5 1750.8,1171.1 1754.3,1169.7 1757.8,1168.2 1761.2,1166.6 1764.7,1165.0 1768.2,1163.3 1771.7,1161.5 1775.1,1159.4 1778.6,1156.8 1782.1,1153.8 1785.5,1150.4 1789.0,1146.9 1792.5,1143.4 1795.9,1139.9 1799.4,1136.7 1802.9,1133.7 1806.3,1130.0 1809.8,1124.7 1813.3,1118.0 1816.7,1110.5 1820.2,1102.9 1823.7,1096.0 1827.1,1089.7 1830.6,1083.6 1834.1,1077.3 1837.5,1070.6 1841.0,1063.0 1844.5,1053.6 1847.9,1045.2 1851.4,1037.5 1854.9,1030.3 1858.3,1023.3 1861.8,1016.3 1865.3,1009.3 1868.7,1002.4 1872.2,995.6 1875.7,989.2 1879.1,983.2 1882.6,977.5 1886.1,971.8 1889.5,966.3 1893.0,961.3 1896.5,956.9 1900.0,953.2 1903.4,950.5 1906.9,948.1 1910.4,945.9 1913.8,943.3 1917.3,940.7 1920.8,937.9 1924.2,935.2 1927.7,932.5 1931.2,929.9 1934.6,927.6 1938.1,925.6 1941.6,924.0 1945.0,922.9 1948.5,922.1 1952.0,921.4 1955.4,920.7 1958.9,920.2 1962.4,919.7 1965.8,919.2 1969.3,918.8 1972.8,918.4 1976.2,918.0 1979.7,917.6 1983.2,917.2 1986.6,916.8 1990.1,916.4 1993.6,916.1 1997.0,915.7 2000.5,915.4 2004.0,915.1 2007.4,914.8 2010.9,914.6 2014.4,914.4 2017.9,914.2 2021.3,914.1 2024.8,913.9 2028.3,913.8 2031.7,913.7 2035.2,913.6 2038.7,913.5 2042.1,913.4 2045.6,913.4 2049.1,913.4 2049.1,925.1 2045.6,925.5 2042.1,926.1 2038.7,926.7 2035.2,927.5 2031.7,928.3 2028.3,929.1 2024.8,930.1 2021.3,931.0 2017.9,932.0 2014.4,933.1 2010.9,934.2 2007.4,935.5 2004.0,936.9 2000.5,938.4 1997.0,940.0 1993.6,941.7 1990.1,943.5 1986.6,945.3 1983.2,947.2 1979.7,949.1 1976.2,951.1 1972.8,953.3 1969.3,955.8 1965.8,958.3 1962.4,961.0 1958.9,963.9 1955.4,966.9 1952.0,970.0 1948.5,973.2 1945.0,976.4 1941.6,979.8 1938.1,983.3 1934.6,986.9 1931.2,990.7 1927.7,994.6 1924.2,998.7 1920.8,1003.0 1917.3,1007.8 1913.8,1013.1 1910.4,1018.4 1906.9,1023.3 1903.4,1028.2 1900.0,1033.3 1896.5,1038.7 1893.0,1044.4 1889.5,1050.1 1886.1,1056.0 1882.6,1061.9 1879.1,1068.0 1875.7,1074.1 1872.2,1080.2 1868.7,1086.2 1865.3,1092.1 1861.8,1097.7 1858.3,1103.2 1854.9,1108.7 1851.4,1114.1 1847.9,1119.2 1844.5,1124.1 1841.0,1128.5 1837.5,1132.5 1834.1,1136.2 1830.6,1139.7 1827.1,1143.0 1823.7,1146.2 1820.2,1149.4 1816.7,1152.3 1813.3,1155.2 1809.8,1157.9 1806.3,1160.4 1802.9,1162.8 1799.4,1165.1 1795.9,1167.2 1792.5,1169.1 1789.0,1170.8 1785.5,1172.2 1782.1,1173.6 1778.6,1174.8 1775.1,1175.8 1771.7,1176.7 1768.2,1177.6 1764.7,1178.4 1761.2,1179.2 1757.8,1180.0 1754.3,1180.7 1750.8,1181.4 1747.4,1182.1 1743.9,1182.8 1740.4,1183.5 1737.0,1184.1 1733.5,1184.7 1730.0,1185.3 1726.6,1185.8 1723.1,1186.3 1719.6,1186.7 1716.2,1187.2 1712.7,1187.5 1709.2,1187.9 1705.8,1188.2 1702.3,1188.5 1698.8,1188.7 1695.4,1188.9 1691.9,1189.1 1688.4,1189.3 1685.0,1189.5 1681.5,1189.7 1678.0,1189.9 1674.6,1190.1 1671.1,1190.3 1667.6,1190.4 1664.2,1190.6 1660.7,1190.7 1657.2,1190.8 1653.8,1191.0 1650.3,1191.1 1646.8,1191.2 1643.3,1191.3 1639.9,1191.3 1636.4,1191.4 1632.9,1191.5 1629.5,1191.5 1626.0,1191.6 1622.5,1191.6 1619.1,1191.7 1615.6,1191.7 1612.1,1191.7 1608.7,1191.8 1605.2,1191.8 1601.7,1191.8 1598.3,1191.9 1594.8,1191.9 1591.3,1191.9 1587.9,1192.0 1584.4,1192.0 1580.9,1192.0 1577.5,1192.0 1574.0,1192.1 1570.5,1192.1 1567.1,1192.1 1563.6,1192.1 1560.1,1192.2 1556.7,1192.2 1553.2,1192.2 1549.7,1192.2 1546.3,1192.2 1542.8,1192.3 1539.3,1192.3 1535.9,1192.3 1532.4,1192.3 1528.9,1192.4 1525.4,1192.4 1522.0,1192.4 1518.5,1192.4 1515.0,1192.4 1511.6,1192.4 1508.1,1192.5 1504.6,1192.5 1501.2,1192.5 1497.7,1192.5 1494.2,1192.5" fill="#555555" fill-opacity="0.16"/>
<polyline points="1494.2,1192.4 1497.7,1192.4 1501.2,1192.4 1504.6,1192.4 1508.1,1192.4 1511.6,1192.3 1515.0,1192.3 1518.5,1192.3 1522.0,1192.3 1525.4,1192.3 1528.9,1192.2 1532.4,1192.2 1535.9,1192.2 1539.3,1192.2 1542.8,1192.1 1546.3,1192.1 1549.7,1192.1 1553.2,1192.1 1556.7,1192.0 1560.1,1192.0 1563.6,1192.0 1567.1,1191.9 1570.5,1191.9 1574.0,1191.8 1577.5,1191.8 1580.9,1191.7 1584.4,1191.7 1587.9,1191.6 1591.3,1191.6 1594.8,1191.5 1598.3,1191.5 1601.7,1191.4 1605.2,1191.3 1608.7,1191.3 1612.1,1191.2 1615.6,1191.1 1619.1,1191.0 1622.5,1190.9 1626.0,1190.9 1629.5,1190.8 1632.9,1190.6 1636.4,1190.5 1639.9,1190.4 1643.3,1190.3 1646.8,1190.2 1650.3,1190.0 1653.8,1189.9 1657.2,1189.7 1660.7,1189.5 1664.2,1189.4 1667.6,1189.2 1671.1,1189.0 1674.6,1188.8 1678.0,1188.5 1681.5,1188.3 1685.0,1188.0 1688.4,1187.8 1691.9,1187.5 1695.4,1187.1 1698.8,1186.8 1702.3,1186.4 1705.8,1186.0 1709.2,1185.6 1712.7,1185.2 1716.2,1184.7 1719.6,1184.2 1723.1,1183.6 1726.6,1183.0 1730.0,1182.4 1733.5,1181.7 1737.0,1180.9 1740.4,1180.1 1743.9,1179.3 1747.4,1178.3 1750.8,1177.3 1754.3,1176.2 1757.8,1175.1 1761.2,1173.8 1764.7,1172.4 1768.2,1170.9 1771.7,1169.3 1775.1,1167.6 1778.6,1165.7 1782.1,1163.7 1785.5,1161.5 1789.0,1159.1 1792.5,1156.6 1795.9,1153.8 1799.4,1150.9 1802.9,1147.8 1806.3,1144.4 1809.8,1140.8 1813.3,1136.9 1816.7,1132.8 1820.2,1128.5 1823.7,1123.9 1827.1,1119.0 1830.6,1113.9 1834.1,1108.6 1837.5,1103.1 1841.0,1097.3 1844.5,1091.3 1847.9,1085.2 1851.4,1078.9 1854.9,1072.5 1858.3,1066.0 1861.8,1059.4 1865.3,1052.8 1868.7,1046.2 1872.2,1039.7 1875.7,1033.3 1879.1,1026.9 1882.6,1020.7 1886.1,1014.6 1889.5,1008.8 1893.0,1003.1 1896.5,997.6 1900.0,992.4 1903.4,987.4 1906.9,982.7 1910.4,978.2 1913.8,973.9 1917.3,969.9 1920.8,966.2 1924.2,962.6 1927.7,959.3 1931.2,956.2 1934.6,953.2 1938.1,950.5 1941.6,948.0 1945.0,945.6 1948.5,943.4 1952.0,941.3 1955.4,939.4 1958.9,937.6 1962.4,935.9 1965.8,934.4 1969.3,932.9 1972.8,931.6 1976.2,930.3 1979.7,929.1 1983.2,928.0 1986.6,927.0 1990.1,926.0 1993.6,925.1 1997.0,924.2 2000.5,923.4 2004.0,922.7 2007.4,922.0 2010.9,921.3 2014.4,920.7 2017.9,920.1 2021.3,919.6 2024.8,919.0 2028.3,918.6 2031.7,918.1 2035.2,917.7 2038.7,917.2 2042.1,916.9 2045.6,916.5 2049.1,916.1" fill="none" stroke="#555555" stroke-width="6.5" stroke-linejoin="round"/>
<polyline points="1582.5,1192.0 1641.8,1192.0 1675.3,1191.0 1716.6,1188.9 1784.3,1144.5" fill="none" stroke="#340043" stroke-width="4.45" stroke-linejoin="round"/>
<polyline points="1582.5,1192.0 1641.8,1192.0 1675.3,1191.0 1716.6,1190.2 1784.3,1150.8" fill="none" stroke="#69c940" stroke-width="4.45" stroke-linejoin="round"/>
<line x1="1582.5" x2="1582.5" y1="1190.0" y2="1194.0" stroke="#340043" stroke-width="3.6"/>
<line x1="1641.8" x2="1641.8" y1="1190.0" y2="1194.0" stroke="#340043" stroke-width="3.6"/>
<line x1="1675.3" x2="1675.3" y1="1187.0" y2="1195.0" stroke="#340043" stroke-width="3.6"/>
<line x1="1716.6" x2="1716.6" y1="1182.9" y2="1194.9" stroke="#340043" stroke-width="3.6"/>
<line x1="1784.3" x2="1784.3" y1="1125.1" y2="1163.9" stroke="#340043" stroke-width="3.6"/>
<line x1="1582.5" x2="1582.5" y1="1190.0" y2="1194.0" stroke="#69c940" stroke-width="3.6"/>
<line x1="1641.8" x2="1641.8" y1="1190.0" y2="1194.0" stroke="#69c940" stroke-width="3.6"/>
<line x1="1675.3" x2="1675.3" y1="1187.0" y2="1195.0" stroke="#69c940" stroke-width="3.6"/>
<line x1="1716.6" x2="1716.6" y1="1184.2" y2="1196.2" stroke="#69c940" stroke-width="3.6"/>
<line x1="1784.3" x2="1784.3" y1="1128.8" y2="1172.8" stroke="#69c940" stroke-width="3.6"/>
<circle cx="1582.5" cy="1192.0" r="14.1" fill="#340043"/>
<circle cx="1641.8" cy="1192.0" r="14.1" fill="#340043"/>
<circle cx="1675.3" cy="1191.0" r="14.1" fill="#340043"/>
<circle cx="1716.6" cy="1188.9" r="14.1" fill="#340043"/>
<circle cx="1784.3" cy="1144.5" r="14.1" fill="#340043"/>
<circle cx="1582.5" cy="1192.0" r="14.1" fill="#69c940"/>
<circle cx="1641.8" cy="1192.0" r="14.1" fill="#69c940"/>
<circle cx="1675.3" cy="1191.0" r="14.1" fill="#69c940"/>
<circle cx="1716.6" cy="1190.2" r="14.1" fill="#69c940"/>
<circle cx="1784.3" cy="1150.8" r="14.1" fill="#69c940"/>
<text transform="translate(1480.87,948.50) scale(0.8000,1.0000)" font-family="DejaVu Serif, Liberation Serif, serif" font-size="39.3" fill="#000">γ</text>
<text transform="translate(1509.19,945.40) scale(0.9230,0.5500)" font-family="Liberation Sans, Arial, Helvetica, sans-serif" font-size="41.5" font-weight="bold" fill="#000">=</text>
<text transform="translate(1540.74,952.40) scale(0.9660,1.0800)" font-family="Liberation Sans, Arial, Helvetica, sans-serif" font-size="41.5" fill="#000">−</text>
<text transform="translate(1569.60,947.60) scale(1.0000,1.0407)" font-family="Liberation Sans, Arial, Helvetica, sans-serif" font-size="41.5" fill="#000">0.24</text>
<rect x="1466.50" y="898.00" width="610.30" height="308.67" fill="none" stroke="#252525" stroke-width="4.45"/>
</g>
<g clip-path="url(#cs9)"><rect x="1466.50" y="827.32" width="610.30" height="70.68" fill="#d1d1d1" stroke="#252525" stroke-width="4.45"/></g>
<text transform="translate(1771.65,876.22) scale(1.0000,1.0200)" font-family="Liberation Sans, Arial, Helvetica, sans-serif" font-size="36.67" font-weight="bold" text-anchor="middle" fill="#111111">q9</text>
<line x1="1455.04" x2="1466.50" y1="1192.70" y2="1192.70" stroke="#252525" stroke-width="4.45"/>
<text transform="translate(1445.05,1206.40) scale(1.0000,1.0407)" font-family="Liberation Sans, Arial, Helvetica, sans-serif" font-size="36.67" text-anchor="end" fill="#3c3c3c">0</text>
<line x1="1455.04" x2="1466.50" y1="1098.27" y2="1098.27" stroke="#252525" stroke-width="4.45"/>
<text transform="translate(1445.05,1111.97) scale(1.0000,1.0407)" font-family="Liberation Sans, Arial, Helvetica, sans-serif" font-size="36.67" text-anchor="end" fill="#3c3c3c">1</text>
<line x1="1455.04" x2="1466.50" y1="1003.83" y2="1003.83" stroke="#252525" stroke-width="4.45"/>
<text transform="translate(1445.05,1017.53) scale(1.0000,1.0407)" font-family="Liberation Sans, Arial, Helvetica, sans-serif" font-size="36.67" text-anchor="end" fill="#3c3c3c">2</text>
<line x1="1455.04" x2="1466.50" y1="909.40" y2="909.40" stroke="#252525" stroke-width="4.45"/>
<text transform="translate(1445.05,923.10) scale(1.0000,1.0407)" font-family="Liberation Sans, Arial, Helvetica, sans-serif" font-size="36.67" text-anchor="end" fill="#3c3c3c">3</text>
<line x1="1494.24" x2="1494.24" y1="1206.67" y2="1218.13" stroke="#252525" stroke-width="4.45"/>
<text transform="translate(1493.34,1254.40) scale(1.0000,1.0407)" font-family="Liberation Sans, Arial, Helvetica, sans-serif" font-size="36.67" text-anchor="middle" fill="#3c3c3c">-4</text>
<line x1="1632.95" x2="1632.95" y1="1206.67" y2="1218.13" stroke="#252525" stroke-width="4.45"/>
<text transform="translate(1632.05,1254.40) scale(1.0000,1.0407)" font-family="Liberation Sans, Arial, Helvetica, sans-serif" font-size="36.67" text-anchor="middle" fill="#3c3c3c">-2</text>
<line x1="1771.65" x2="1771.65" y1="1206.67" y2="1218.13" stroke="#252525" stroke-width="4.45"/>
<text transform="translate(1770.75,1254.40) scale(1.0000,1.0407)" font-family="Liberation Sans, Arial, Helvetica, sans-serif" font-size="36.67" text-anchor="middle" fill="#3c3c3c">0</text>
<line x1="1910.35" x2="1910.35" y1="1206.67" y2="1218.13" stroke="#252525" stroke-width="4.45"/>
<text transform="translate(1909.45,1254.40) scale(1.0000,1.0407)" font-family="Liberation Sans, Arial, Helvetica, sans-serif" font-size="36.67" text-anchor="middle" fill="#3c3c3c">2</text>
<line x1="2049.06" x2="2049.06" y1="1206.67" y2="1218.13" stroke="#252525" stroke-width="4.45"/>
<text transform="translate(2048.16,1254.40) scale(1.0000,1.0407)" font-family="Liberation Sans, Arial, Helvetica, sans-serif" font-size="36.67" text-anchor="middle" fill="#3c3c3c">4</text>
</g>
<text transform="translate(1097.10,1304.20) scale(1.1060,0.9720)" font-family="Liberation Serif, Times New Roman, serif" font-size="45.83" text-anchor="middle" fill="#000">θ</text>
<text transform="translate(55.50,651.00) rotate(-90) scale(1.0000,1.0250)" font-family="Liberation Sans, Arial, Helvetica, sans-serif" font-size="45.83" text-anchor="middle" fill="#000">Item score</text>
<line x1="983.2" x2="1040.8" y1="1418.3" y2="1418.3" stroke="#340043" stroke-width="4.45"/>
<circle cx="1012.0" cy="1418.3" r="14.1" fill="#340043"/>
<text transform="translate(1069.70,1432.00) scale(1.0000,1.0407)" font-family="Liberation Sans, Arial, Helvetica, sans-serif" font-size="36.67" fill="#000">F</text>
<line x1="1123.4" x2="1181.0" y1="1418.3" y2="1418.3" stroke="#69c940" stroke-width="4.45"/>
<circle cx="1152.2" cy="1418.3" r="14.1" fill="#69c940"/>
<text transform="translate(1209.80,1432.00) scale(1.0000,1.0407)" font-family="Liberation Sans, Arial, Helvetica, sans-serif" font-size="36.67" fill="#000">M</text>
</svg>
</body></html>
